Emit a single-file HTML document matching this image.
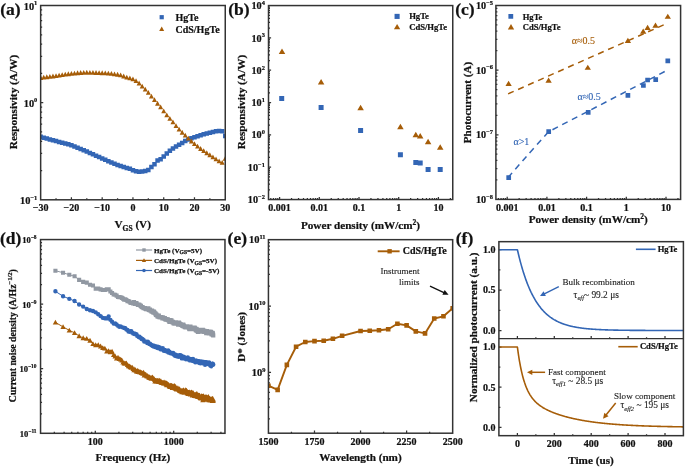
<!DOCTYPE html>
<html><head><meta charset="utf-8"><style>
html,body{margin:0;padding:0;background:#fff;overflow:hidden;}
svg{display:block;font-family:'Liberation Serif', serif;}
svg{will-change:transform;}
</style></head><body>
<svg width="685" height="467" viewBox="0 0 685 467">
<rect width="685" height="467" fill="#fff"/>
<path d="M56.03 199.8L56.03 198.3M71.42 199.8L71.42 197.2M86.8 199.8L86.8 198.3M102.18 199.8L102.18 197.2M117.57 199.8L117.57 198.3M132.95 199.8L132.95 197.2M148.33 199.8L148.33 198.3M163.72 199.8L163.72 197.2M179.1 199.8L179.1 198.3M194.48 199.8L194.48 197.2M209.87 199.8L209.87 198.3M40.65 170.55L42.15 170.55M40.65 153.45L42.15 153.45M40.65 141.31L42.15 141.31M40.65 131.9L42.15 131.9M40.65 124.2L42.15 124.2M40.65 117.7L42.15 117.7M40.65 112.06L42.15 112.06M40.65 107.1L42.15 107.1M40.65 102.65L43.25 102.65M40.65 73.4L42.15 73.4M40.65 56.3L42.15 56.3M40.65 44.16L42.15 44.16M40.65 34.75L42.15 34.75M40.65 27.05L42.15 27.05M40.65 20.55L42.15 20.55M40.65 14.91L42.15 14.91M40.65 9.95L42.15 9.95" stroke="#333" stroke-width="1.25" fill="none"/>
<clipPath id="ca"><rect x="40.65" y="5.5" width="184.6" height="194.3"/></clipPath>
<path clip-path="url(#ca)" fill="#3366b5" d="M38.4 134.61h4.5v4.5h-4.5ZM41.48 135.47h4.5v4.5h-4.5ZM44.55 136.33h4.5v4.5h-4.5ZM47.63 137.19h4.5v4.5h-4.5ZM50.71 138.04h4.5v4.5h-4.5ZM53.78 138.87h4.5v4.5h-4.5ZM56.86 139.65h4.5v4.5h-4.5ZM59.94 140.43h4.5v4.5h-4.5ZM63.01 141.23h4.5v4.5h-4.5ZM66.09 142.11h4.5v4.5h-4.5ZM69.17 143.09h4.5v4.5h-4.5ZM72.24 144.2h4.5v4.5h-4.5ZM75.32 145.41h4.5v4.5h-4.5ZM78.4 146.69h4.5v4.5h-4.5ZM81.47 148h4.5v4.5h-4.5ZM84.55 149.3h4.5v4.5h-4.5ZM87.63 150.65h4.5v4.5h-4.5ZM90.7 152.05h4.5v4.5h-4.5ZM93.78 153.47h4.5v4.5h-4.5ZM96.86 154.87h4.5v4.5h-4.5ZM99.93 156.24h4.5v4.5h-4.5ZM103.01 157.6h4.5v4.5h-4.5ZM106.09 158.97h4.5v4.5h-4.5ZM109.16 160.31h4.5v4.5h-4.5ZM112.24 161.59h4.5v4.5h-4.5ZM115.32 162.78h4.5v4.5h-4.5ZM118.39 163.86h4.5v4.5h-4.5ZM121.47 164.85h4.5v4.5h-4.5ZM124.55 165.75h4.5v4.5h-4.5ZM127.62 166.52h4.5v4.5h-4.5ZM130.7 167.99h4.5v4.5h-4.5ZM133.78 169.03h4.5v4.5h-4.5ZM136.85 169.39h4.5v4.5h-4.5ZM139.93 169.31h4.5v4.5h-4.5ZM143.01 168.66h4.5v4.5h-4.5ZM146.08 167.66h4.5v4.5h-4.5ZM149.16 164.75h4.5v4.5h-4.5ZM152.24 162.05h4.5v4.5h-4.5ZM155.31 158.25h4.5v4.5h-4.5ZM158.39 156.97h4.5v4.5h-4.5ZM161.47 154.15h4.5v4.5h-4.5ZM164.54 151.17h4.5v4.5h-4.5ZM167.62 148.52h4.5v4.5h-4.5ZM170.7 146.37h4.5v4.5h-4.5ZM173.77 144.21h4.5v4.5h-4.5ZM176.85 142.44h4.5v4.5h-4.5ZM179.93 140.67h4.5v4.5h-4.5ZM183 138.66h4.5v4.5h-4.5ZM186.08 137.21h4.5v4.5h-4.5ZM189.16 135.99h4.5v4.5h-4.5ZM192.23 134.91h4.5v4.5h-4.5ZM195.31 133.9h4.5v4.5h-4.5ZM198.39 132.96h4.5v4.5h-4.5ZM201.46 132.1h4.5v4.5h-4.5ZM204.54 131.3h4.5v4.5h-4.5ZM207.62 130.55h4.5v4.5h-4.5ZM210.69 129.75h4.5v4.5h-4.5ZM213.77 128.97h4.5v4.5h-4.5ZM216.85 128.77h4.5v4.5h-4.5ZM219.92 129.07h4.5v4.5h-4.5ZM223 133.75h4.5v4.5h-4.5Z"/>
<path clip-path="url(#ca)" fill="#a65d08" d="M38.15 79.88L43.15 79.88L40.65 75.08ZM41.23 79.53L46.23 79.53L43.73 74.73ZM44.3 79.17L49.3 79.17L46.8 74.37ZM47.38 78.8L52.38 78.8L49.88 74ZM50.46 78.41L55.46 78.41L52.96 73.61ZM53.53 77.99L58.53 77.99L56.03 73.19ZM56.61 77.53L61.61 77.53L59.11 72.73ZM59.69 77.04L64.69 77.04L62.19 72.24ZM62.76 76.57L67.76 76.57L65.26 71.77ZM65.84 76.16L70.84 76.16L68.34 71.36ZM68.92 75.82L73.92 75.82L71.42 71.02ZM71.99 75.48L76.99 75.48L74.49 70.68ZM75.07 75.16L80.07 75.16L77.57 70.36ZM78.15 74.89L83.15 74.89L80.65 70.09ZM81.22 74.71L86.22 74.71L83.72 69.91ZM84.3 74.66L89.3 74.66L86.8 69.86ZM87.38 74.7L92.38 74.7L89.88 69.9ZM90.45 74.77L95.45 74.77L92.95 69.97ZM93.53 74.88L98.53 74.88L96.03 70.08ZM96.61 75.02L101.61 75.02L99.11 70.22ZM99.68 75.16L104.68 75.16L102.18 70.36ZM102.76 75.33L107.76 75.33L105.26 70.53ZM105.84 75.56L110.84 75.56L108.34 70.76ZM108.91 75.85L113.91 75.85L111.41 71.05ZM111.99 76.21L116.99 76.21L114.49 71.41ZM115.07 76.64L120.07 76.64L117.57 71.84ZM118.14 77.32L123.14 77.32L120.64 72.52ZM121.22 78.39L126.22 78.39L123.72 73.59ZM124.3 79.45L129.3 79.45L126.8 74.65ZM127.37 80.29L132.37 80.29L129.87 75.49ZM130.45 81.35L135.45 81.35L132.95 76.55ZM133.53 83.1L138.53 83.1L136.03 78.3ZM136.6 85.41L141.6 85.41L139.1 80.61ZM139.68 88.56L144.68 88.56L142.18 83.76ZM142.76 91.62L147.76 91.62L145.26 86.82ZM145.83 94.83L150.83 94.83L148.33 90.03ZM148.91 98.47L153.91 98.47L151.41 93.67ZM151.99 102.06L156.99 102.06L154.49 97.26ZM155.06 105.64L160.06 105.64L157.56 100.84ZM158.14 109.22L163.14 109.22L160.64 104.42ZM161.22 113.3L166.22 113.3L163.72 108.5ZM164.29 117.22L169.29 117.22L166.79 112.42ZM167.37 120.76L172.37 120.76L169.87 115.96ZM170.45 124.35L175.45 124.35L172.95 119.55ZM173.52 127.97L178.52 127.97L176.02 123.17ZM176.6 131.52L181.6 131.52L179.1 126.72ZM179.68 134.63L184.68 134.63L182.18 129.83ZM182.75 137.59L187.75 137.59L185.25 132.79ZM185.83 140.53L190.83 140.53L188.33 135.73ZM188.91 143.39L193.91 143.39L191.41 138.59ZM191.98 146.11L196.98 146.11L194.48 141.31ZM195.06 148.62L200.06 148.62L197.56 143.82ZM198.14 150.92L203.14 150.92L200.64 146.12ZM201.21 153.07L206.21 153.07L203.71 148.27ZM204.29 155.14L209.29 155.14L206.79 150.34ZM207.37 157.17L212.37 157.17L209.87 152.37ZM210.44 159.24L215.44 159.24L212.94 154.44ZM213.52 161.29L218.52 161.29L216.02 156.49ZM216.6 163.2L221.6 163.2L219.1 158.4ZM219.67 164.84L224.67 164.84L222.17 160.04ZM222.75 160.66L227.75 160.66L225.25 155.86Z"/>
<rect x="40.65" y="5.5" width="184.6" height="194.3" fill="none" stroke="#333" stroke-width="1.5"/>
<path fill="#3366b5" d="M159.6 15.1h4.2v4.2h-4.2Z"/>
<path fill="#a65d08" d="M159.2 31.07L164.2 31.07L161.7 26.47Z"/>
<text x="175.5" y="20.6" font-size="10" font-weight="bold" text-anchor="start" fill="#111"  stroke="#111" stroke-width="0.22">HgTe</text>
<text x="175.5" y="32.6" font-size="10" font-weight="bold" text-anchor="start" fill="#111"  stroke="#111" stroke-width="0.22">CdS/HgTe</text>
<text x="40.65" y="210.7" font-size="10" font-weight="bold" text-anchor="middle" fill="#111"  stroke="#111" stroke-width="0.22">&#8722;30</text>
<text x="71.42" y="210.7" font-size="10" font-weight="bold" text-anchor="middle" fill="#111"  stroke="#111" stroke-width="0.22">&#8722;20</text>
<text x="102.18" y="210.7" font-size="10" font-weight="bold" text-anchor="middle" fill="#111"  stroke="#111" stroke-width="0.22">&#8722;10</text>
<text x="132.95" y="210.7" font-size="10" font-weight="bold" text-anchor="middle" fill="#111"  stroke="#111" stroke-width="0.22">0</text>
<text x="163.72" y="210.7" font-size="10" font-weight="bold" text-anchor="middle" fill="#111"  stroke="#111" stroke-width="0.22">10</text>
<text x="194.48" y="210.7" font-size="10" font-weight="bold" text-anchor="middle" fill="#111"  stroke="#111" stroke-width="0.22">20</text>
<text x="225.25" y="210.7" font-size="10" font-weight="bold" text-anchor="middle" fill="#111"  stroke="#111" stroke-width="0.22">30</text>
<text x="37.3" y="9.5" font-size="10.4" font-weight="bold" text-anchor="end" fill="#111" stroke="#111" stroke-width="0.22">10<tspan font-size="6.4" dy="-4.3">1</tspan></text>
<text x="37.3" y="106.65" font-size="10.4" font-weight="bold" text-anchor="end" fill="#111" stroke="#111" stroke-width="0.22">10<tspan font-size="6.4" dy="-4.3">0</tspan></text>
<text x="37.3" y="203.8" font-size="10.4" font-weight="bold" text-anchor="end" fill="#111" stroke="#111" stroke-width="0.22">10<tspan font-size="6.4" dy="-4.3">&#8722;1</tspan></text>
<text x="132.7" y="227.9" font-size="11.2" font-weight="bold" text-anchor="middle" fill="#111" stroke="#111" stroke-width="0.22">V<tspan font-size="7.5" dy="3">GS</tspan><tspan dy="-3"> (V)</tspan></text>
<text transform="translate(17,102) rotate(-90)" font-size="11.3" font-weight="bold" text-anchor="middle" fill="#111" stroke="#111" stroke-width="0.22">Responsivity (A/W)</text>
<text x="0.3" y="15.4" font-size="17.5" font-weight="bold" text-anchor="start" fill="#111"  stroke="#111" stroke-width="0.22">(a)</text>
<path d="M270.79 199.55L270.79 198.05M273.45 199.55L273.45 198.05M275.75 199.55L275.75 198.05M277.78 199.55L277.78 198.05M279.6 199.55L279.6 196.95M291.55 199.55L291.55 198.05M298.54 199.55L298.54 198.05M303.5 199.55L303.5 198.05M307.35 199.55L307.35 198.05M310.49 199.55L310.49 198.05M313.15 199.55L313.15 198.05M315.45 199.55L315.45 198.05M317.48 199.55L317.48 198.05M319.3 199.55L319.3 196.95M331.25 199.55L331.25 198.05M338.24 199.55L338.24 198.05M343.2 199.55L343.2 198.05M347.05 199.55L347.05 198.05M350.19 199.55L350.19 198.05M352.85 199.55L352.85 198.05M355.15 199.55L355.15 198.05M357.18 199.55L357.18 198.05M359 199.55L359 196.95M370.95 199.55L370.95 198.05M377.94 199.55L377.94 198.05M382.9 199.55L382.9 198.05M386.75 199.55L386.75 198.05M389.89 199.55L389.89 198.05M392.55 199.55L392.55 198.05M394.85 199.55L394.85 198.05M396.88 199.55L396.88 198.05M398.7 199.55L398.7 196.95M410.65 199.55L410.65 198.05M417.64 199.55L417.64 198.05M422.6 199.55L422.6 198.05M426.45 199.55L426.45 198.05M429.59 199.55L429.59 198.05M432.25 199.55L432.25 198.05M434.55 199.55L434.55 198.05M436.58 199.55L436.58 198.05M438.4 199.55L438.4 196.95M450.35 199.55L450.35 198.05M268.5 189.82L270 189.82M268.5 184.12L270 184.12M268.5 180.09L270 180.09M268.5 176.95L270 176.95M268.5 174.39L270 174.39M268.5 172.23L270 172.23M268.5 170.35L270 170.35M268.5 168.7L270 168.7M268.5 167.22L271.1 167.22M268.5 157.49L270 157.49M268.5 151.79L270 151.79M268.5 147.76L270 147.76M268.5 144.62L270 144.62M268.5 142.06L270 142.06M268.5 139.9L270 139.9M268.5 138.02L270 138.02M268.5 136.37L270 136.37M268.5 134.89L271.1 134.89M268.5 125.16L270 125.16M268.5 119.46L270 119.46M268.5 115.43L270 115.43M268.5 112.29L270 112.29M268.5 109.73L270 109.73M268.5 107.57L270 107.57M268.5 105.69L270 105.69M268.5 104.04L270 104.04M268.5 102.56L271.1 102.56M268.5 92.83L270 92.83M268.5 87.13L270 87.13M268.5 83.1L270 83.1M268.5 79.96L270 79.96M268.5 77.4L270 77.4M268.5 75.24L270 75.24M268.5 73.36L270 73.36M268.5 71.71L270 71.71M268.5 70.23L271.1 70.23M268.5 60.5L270 60.5M268.5 54.8L270 54.8M268.5 50.77L270 50.77M268.5 47.63L270 47.63M268.5 45.07L270 45.07M268.5 42.91L270 42.91M268.5 41.03L270 41.03M268.5 39.38L270 39.38M268.5 37.9L271.1 37.9M268.5 28.17L270 28.17M268.5 22.47L270 22.47M268.5 18.44L270 18.44M268.5 15.3L270 15.3M268.5 12.74L270 12.74M268.5 10.58L270 10.58M268.5 8.7L270 8.7M268.5 7.05L270 7.05" stroke="#333" stroke-width="1.25" fill="none"/>
<path fill="#3366b5" d="M279.2 96h5v5h-5ZM318.6 105.1h5v5h-5ZM358.1 128.1h5v5h-5ZM397.9 152.3h5v5h-5ZM413.3 160h5v5h-5ZM417.7 160.5h5v5h-5ZM425.6 166.9h5v5h-5ZM437.7 166.9h5v5h-5Z"/>
<path fill="#a65d08" d="M278.75 53.93L285.25 53.93L282 48.53ZM317.85 84.43L324.35 84.43L321.1 79.03ZM357.35 110.13L363.85 110.13L360.6 104.73ZM397.15 129.23L403.65 129.23L400.4 123.83ZM412.55 137.13L419.05 137.13L415.8 131.73ZM416.95 138.43L423.45 138.43L420.2 133.03ZM424.85 144.13L431.35 144.13L428.1 138.73ZM436.95 149.73L443.45 149.73L440.2 144.33Z"/>
<rect x="268.5" y="5.57" width="184.25" height="193.98" fill="none" stroke="#333" stroke-width="1.5"/>
<path fill="#3366b5" d="M394.55 13.85h5.1v5.1h-5.1Z"/>
<path fill="#a65d08" d="M393.95 29.33L400.25 29.33L397.1 23.93Z"/>
<text x="409.2" y="19.4" font-size="8.6" font-weight="bold" text-anchor="start" fill="#111"  stroke="#111" stroke-width="0.22">HgTe</text>
<text x="409.2" y="29.8" font-size="8.6" font-weight="bold" text-anchor="start" fill="#111"  stroke="#111" stroke-width="0.22">CdS/HgTe</text>
<text x="279.6" y="210.6" font-size="10" font-weight="bold" text-anchor="middle" fill="#111"  stroke="#111" stroke-width="0.22">0.001</text>
<text x="319.3" y="210.6" font-size="10" font-weight="bold" text-anchor="middle" fill="#111"  stroke="#111" stroke-width="0.22">0.01</text>
<text x="359" y="210.6" font-size="10" font-weight="bold" text-anchor="middle" fill="#111"  stroke="#111" stroke-width="0.22">0.1</text>
<text x="398.7" y="210.6" font-size="10" font-weight="bold" text-anchor="middle" fill="#111"  stroke="#111" stroke-width="0.22">1</text>
<text x="438.4" y="210.6" font-size="10" font-weight="bold" text-anchor="middle" fill="#111"  stroke="#111" stroke-width="0.22">10</text>
<text x="264.9" y="203.15" font-size="10.2" font-weight="bold" text-anchor="end" fill="#111" stroke="#111" stroke-width="0.22">10<tspan font-size="6.4" dy="-4.3">&#8722;2</tspan></text>
<text x="264.9" y="170.82" font-size="10.2" font-weight="bold" text-anchor="end" fill="#111" stroke="#111" stroke-width="0.22">10<tspan font-size="6.4" dy="-4.3">&#8722;1</tspan></text>
<text x="264.9" y="138.49" font-size="10.2" font-weight="bold" text-anchor="end" fill="#111" stroke="#111" stroke-width="0.22">10<tspan font-size="6.4" dy="-4.3">0</tspan></text>
<text x="264.9" y="106.16" font-size="10.2" font-weight="bold" text-anchor="end" fill="#111" stroke="#111" stroke-width="0.22">10<tspan font-size="6.4" dy="-4.3">1</tspan></text>
<text x="264.9" y="73.83" font-size="10.2" font-weight="bold" text-anchor="end" fill="#111" stroke="#111" stroke-width="0.22">10<tspan font-size="6.4" dy="-4.3">2</tspan></text>
<text x="264.9" y="41.5" font-size="10.2" font-weight="bold" text-anchor="end" fill="#111" stroke="#111" stroke-width="0.22">10<tspan font-size="6.4" dy="-4.3">3</tspan></text>
<text x="264.9" y="9.17" font-size="10.2" font-weight="bold" text-anchor="end" fill="#111" stroke="#111" stroke-width="0.22">10<tspan font-size="6.4" dy="-4.3">4</tspan></text>
<text x="360.5" y="229.0" font-size="11.2" font-weight="bold" text-anchor="middle" fill="#111" stroke="#111" stroke-width="0.22">Power density (mW/cm<tspan font-size="7.5" dy="-4">2</tspan><tspan dy="4">)</tspan></text>
<text transform="translate(244.6,102) rotate(-90)" font-size="11.3" font-weight="bold" text-anchor="middle" fill="#111" stroke="#111" stroke-width="0.22">Responsivity (A/W)</text>
<text x="228.2" y="15.4" font-size="17.5" font-weight="bold" text-anchor="start" fill="#111"  stroke="#111" stroke-width="0.22">(b)</text>
<path d="M498.39 199.4L498.39 197.9M501.05 199.4L501.05 197.9M503.35 199.4L503.35 197.9M505.38 199.4L505.38 197.9M507.2 199.4L507.2 196.8M519.15 199.4L519.15 197.9M526.14 199.4L526.14 197.9M531.1 199.4L531.1 197.9M534.95 199.4L534.95 197.9M538.09 199.4L538.09 197.9M540.75 199.4L540.75 197.9M543.05 199.4L543.05 197.9M545.08 199.4L545.08 197.9M546.9 199.4L546.9 196.8M558.85 199.4L558.85 197.9M565.84 199.4L565.84 197.9M570.8 199.4L570.8 197.9M574.65 199.4L574.65 197.9M577.79 199.4L577.79 197.9M580.45 199.4L580.45 197.9M582.75 199.4L582.75 197.9M584.78 199.4L584.78 197.9M586.6 199.4L586.6 196.8M598.55 199.4L598.55 197.9M605.54 199.4L605.54 197.9M610.5 199.4L610.5 197.9M614.35 199.4L614.35 197.9M617.49 199.4L617.49 197.9M620.15 199.4L620.15 197.9M622.45 199.4L622.45 197.9M624.48 199.4L624.48 197.9M626.3 199.4L626.3 196.8M638.25 199.4L638.25 197.9M645.24 199.4L645.24 197.9M650.2 199.4L650.2 197.9M654.05 199.4L654.05 197.9M657.19 199.4L657.19 197.9M659.85 199.4L659.85 197.9M662.15 199.4L662.15 197.9M664.18 199.4L664.18 197.9M666 199.4L666 196.8M677.95 199.4L677.95 197.9M495.9 179.94L497.4 179.94M495.9 168.56L497.4 168.56M495.9 160.49L497.4 160.49M495.9 154.22L497.4 154.22M495.9 149.11L497.4 149.11M495.9 144.78L497.4 144.78M495.9 141.03L497.4 141.03M495.9 137.72L497.4 137.72M495.9 134.77L498.5 134.77M495.9 115.31L497.4 115.31M495.9 103.93L497.4 103.93M495.9 95.85L497.4 95.85M495.9 89.59L497.4 89.59M495.9 84.47L497.4 84.47M495.9 80.15L497.4 80.15M495.9 76.4L497.4 76.4M495.9 73.09L497.4 73.09M495.9 70.13L498.5 70.13M495.9 50.68L497.4 50.68M495.9 39.3L497.4 39.3M495.9 31.22L497.4 31.22M495.9 24.96L497.4 24.96M495.9 19.84L497.4 19.84M495.9 15.51L497.4 15.51M495.9 11.76L497.4 11.76M495.9 8.46L497.4 8.46" stroke="#333" stroke-width="1.25" fill="none"/>
<path d="M508.1 93.9L665 24.3" stroke="#a65d08" stroke-width="1.5" fill="none" stroke-dasharray="6.1 4.84"/>
<path d="M508.7 176.8Q530 152 548.7 131.7L668 69.8" stroke="#3366b5" stroke-width="1.5" fill="none" stroke-dasharray="6.1 4.84" stroke-dashoffset="1.1"/>
<path fill="#3366b5" d="M506.35 175.25h4.7v4.7h-4.7ZM546.35 129.35h4.7v4.7h-4.7ZM585.85 110.05h4.7v4.7h-4.7ZM625.55 92.95h4.7v4.7h-4.7ZM641.05 83.15h4.7v4.7h-4.7ZM645.25 77.65h4.7v4.7h-4.7ZM653.35 77.25h4.7v4.7h-4.7ZM665.45 58.45h4.7v4.7h-4.7Z"/>
<path fill="#a65d08" d="M505.45 85.94L511.75 85.94L508.6 80.74ZM545.45 82.74L551.75 82.74L548.6 77.54ZM584.65 69.84L590.95 69.84L587.8 64.64ZM624.75 42.94L631.05 42.94L627.9 37.74ZM640.05 33.64L646.35 33.64L643.2 28.44ZM644.45 29.94L650.75 29.94L647.6 24.74ZM652.35 27.74L658.65 27.74L655.5 22.54ZM664.65 18.84L670.95 18.84L667.8 13.64Z"/>
<rect x="495.9" y="5.5" width="184.7" height="193.9" fill="none" stroke="#333" stroke-width="1.5"/>
<path fill="#3366b5" d="M508.4 14h4.8v4.8h-4.8Z"/>
<path fill="#a65d08" d="M507.85 29.38L514.15 29.38L511 24.09Z"/>
<text x="522.7" y="19.6" font-size="8.6" font-weight="bold" text-anchor="start" fill="#111"  stroke="#111" stroke-width="0.22">HgTe</text>
<text x="522.7" y="29.8" font-size="8.6" font-weight="bold" text-anchor="start" fill="#111"  stroke="#111" stroke-width="0.22">CdS/HgTe</text>
<text x="571.7" y="44" font-size="10" font-weight="normal" text-anchor="start" fill="#a65d08"  stroke="#a65d08" stroke-width="0.12">&#945;&#8776;0.5</text>
<text x="577.5" y="99.7" font-size="10" font-weight="normal" text-anchor="start" fill="#3366b5"  stroke="#3366b5" stroke-width="0.12">&#945;&#8776;0.5</text>
<text x="513.4" y="144.6" font-size="10" font-weight="normal" text-anchor="start" fill="#3366b5"  stroke="#3366b5" stroke-width="0.12">&#945;&gt;1</text>
<text x="507.2" y="210.6" font-size="10" font-weight="bold" text-anchor="middle" fill="#111"  stroke="#111" stroke-width="0.22">0.001</text>
<text x="546.9" y="210.6" font-size="10" font-weight="bold" text-anchor="middle" fill="#111"  stroke="#111" stroke-width="0.22">0.01</text>
<text x="586.6" y="210.6" font-size="10" font-weight="bold" text-anchor="middle" fill="#111"  stroke="#111" stroke-width="0.22">0.1</text>
<text x="626.3" y="210.6" font-size="10" font-weight="bold" text-anchor="middle" fill="#111"  stroke="#111" stroke-width="0.22">1</text>
<text x="666" y="210.6" font-size="10" font-weight="bold" text-anchor="middle" fill="#111"  stroke="#111" stroke-width="0.22">10</text>
<text x="493" y="203" font-size="10.2" font-weight="bold" text-anchor="end" fill="#111" stroke="#111" stroke-width="0.22">10<tspan font-size="6.4" dy="-4.3">&#8722;8</tspan></text>
<text x="493" y="138.37" font-size="10.2" font-weight="bold" text-anchor="end" fill="#111" stroke="#111" stroke-width="0.22">10<tspan font-size="6.4" dy="-4.3">&#8722;7</tspan></text>
<text x="493" y="73.73" font-size="10.2" font-weight="bold" text-anchor="end" fill="#111" stroke="#111" stroke-width="0.22">10<tspan font-size="6.4" dy="-4.3">&#8722;6</tspan></text>
<text x="493" y="9.1" font-size="10.2" font-weight="bold" text-anchor="end" fill="#111" stroke="#111" stroke-width="0.22">10<tspan font-size="6.4" dy="-4.3">&#8722;5</tspan></text>
<text x="588.2" y="222.5" font-size="11.2" font-weight="bold" text-anchor="middle" fill="#111" stroke="#111" stroke-width="0.22">Power density (mW/cm<tspan font-size="7.5" dy="-4">2</tspan><tspan dy="4">)</tspan></text>
<text transform="translate(471.4,102.6) rotate(-90)" font-size="11.1" font-weight="bold" text-anchor="middle" fill="#111" stroke="#111" stroke-width="0.22">Photocurrent (A)</text>
<text x="455.2" y="15.4" font-size="17.5" font-weight="bold" text-anchor="start" fill="#111"  stroke="#111" stroke-width="0.22">(c)</text>
<path d="M54.31 433.3L54.31 431.8M64.1 433.3L64.1 431.8M71.7 433.3L71.7 431.8M77.91 433.3L77.91 431.8M83.16 433.3L83.16 431.8M87.7 433.3L87.7 431.8M91.71 433.3L91.71 431.8M95.3 433.3L95.3 430.7M118.9 433.3L118.9 431.8M132.71 433.3L132.71 431.8M142.5 433.3L142.5 431.8M150.1 433.3L150.1 431.8M156.31 433.3L156.31 431.8M161.56 433.3L161.56 431.8M166.1 433.3L166.1 431.8M170.11 433.3L170.11 431.8M173.7 433.3L173.7 430.7M197.3 433.3L197.3 431.8M211.11 433.3L211.11 431.8M220.9 433.3L220.9 431.8M40.55 413.86L42.05 413.86M40.55 402.49L42.05 402.49M40.55 394.42L42.05 394.42M40.55 388.16L42.05 388.16M40.55 383.05L42.05 383.05M40.55 378.73L42.05 378.73M40.55 374.98L42.05 374.98M40.55 371.68L42.05 371.68M40.55 368.72L43.15 368.72M40.55 349.28L42.05 349.28M40.55 337.91L42.05 337.91M40.55 329.84L42.05 329.84M40.55 323.59L42.05 323.59M40.55 318.47L42.05 318.47M40.55 314.15L42.05 314.15M40.55 310.4L42.05 310.4M40.55 307.1L42.05 307.1M40.55 304.15L43.15 304.15M40.55 284.71L42.05 284.71M40.55 273.34L42.05 273.34M40.55 265.27L42.05 265.27M40.55 259.01L42.05 259.01M40.55 253.9L42.05 253.9M40.55 249.57L42.05 249.57M40.55 245.83L42.05 245.83M40.55 242.52L42.05 242.52" stroke="#333" stroke-width="1.25" fill="none"/>
<path d="M55.42 270.72L63.06 272.69L69.3 274.79L74.57 276.24L79.13 279.83L83.16 281.89L86.75 282.6L90.01 284.71L92.98 285.57L95.71 288.6L98.23 288.62L100.59 289.34L102.79 289.94L104.86 289.98L106.81 289.42L108.65 289.18L110.4 291.44L112.06 293.01L113.65 294.49L115.16 294.74L116.61 295.61L118 296.97L119.34 297.11L120.63 297.18L121.87 297.83L123.06 298.65L124.22 299.79L125.33 299.35L126.42 299.95L127.47 301.17L128.48 300.97L129.47 301.79L130.43 302.75L131.36 302.89L132.27 302.88L133.16 303.34L134.02 301.95L134.86 303.88L135.68 303.2L136.48 303.12L137.27 304.3L138.03 304.84L138.78 304.67L139.51 304.71L140.23 305.53L140.93 305.87L141.62 306.96L142.3 307.17L142.96 307.44L143.61 308.32L144.24 308.13L144.87 308.11L145.48 309.02L146.09 309.19L146.68 308.93L147.26 308.76L147.83 309.34L148.4 308.31L148.95 310.03L149.49 310.29L150.03 309.67L150.56 310.74L151.08 310.57L151.59 311.63L152.1 310.62L152.59 311.36L153.08 312.3L153.57 312.72L154.04 311.49L154.51 312.56L154.98 313.35L155.43 313.42L155.88 314.93L156.33 314.19L156.77 315.4L157.2 315.21L157.63 316.64L158.05 316.21L158.47 316.18L158.89 315.66L159.29 317.26L159.7 316.93L160.09 317.07L160.49 317.44L160.88 317.3L161.26 317.09L161.64 317.22L162.02 317.37L162.39 318.44L162.76 317.23L163.12 317.69L163.48 317.93L163.84 318.33L164.19 318.66L164.54 318.04L164.89 318.02L165.23 318.96L165.57 319.6L165.91 319.45L166.24 319.25L166.57 319.04L166.89 319.37L167.22 319.22L167.54 319.84L167.85 319.31L168.17 319.97L168.48 320.12L168.79 320.67L169.09 320.75L169.39 321.95L169.69 321.59L169.99 321.66L170.29 320.1L170.58 320.86L170.87 320.77L171.16 321.38L171.44 320.29L171.72 322.07L172 322.27L172.28 321.43L172.56 321.76L172.83 321.97L173.1 322.45L173.37 322.8L173.64 323.5L173.9 322.53L174.17 323.02L174.43 322.82L174.69 323.6L174.94 323.16L175.2 323.42L175.45 322.27L175.7 322.62L175.95 322.33L176.2 323.44L176.45 323.18L176.69 322.91L176.93 323.04L177.17 323.68L177.41 323.37L177.65 323.39L177.89 324.01L178.12 324.77L178.35 323.37L178.58 323.05L178.81 322.66L179.04 322.56L179.27 323.46L179.49 323.76L179.71 323.63L179.94 324.09L180.16 324.32L180.38 324.58L180.59 323.99L180.81 324.59L181.02 324.98L181.24 324.74L181.45 325.02L181.66 324.96L181.87 325.2L182.08 325.72L182.29 325.15L182.49 325.27L182.7 325.72L182.9 325.65L183.1 326.16L183.3 324.53L183.5 325.96L183.7 325.48L183.9 325.88L184.09 326.29L184.29 326.51L184.48 326.64L184.68 326.39L184.87 327.17L185.06 326.4L185.25 326.5L185.44 326.95L185.63 326.35L185.81 327.55L186 327.01L186.18 327.49L186.37 326.47L186.55 326.3L186.73 326.57L186.91 326.87L187.09 326.33L187.27 326.83L187.45 326.73L187.62 327.54L187.8 326.56L187.97 327.37L188.15 326.67L188.32 326.64L188.49 326.93L188.67 326.98L188.84 327.88L189.01 328.56L189.18 328.37L189.34 328.66L189.51 329.08L189.68 328.3L189.84 328.03L190.01 327.56L190.17 326.75L190.34 327.68L190.5 326.52L190.66 327.68L190.82 327.51L190.98 328.19L191.14 327.83L191.3 327.68L191.46 328.4L191.61 328.14L191.77 328.45L191.93 328.68L192.08 328.7L192.24 328.75L192.39 328.49L192.54 328.77L192.7 327.83L192.85 328.62L193 328.07L193.15 329.06L193.3 329.1L193.45 327.67L193.6 328.63L193.74 328.54L193.89 328.12L194.04 328.81L194.18 328.3L194.33 327.63L194.47 328.22L194.62 328.22L194.76 328.36L194.9 327.89L195.05 328.96L195.19 329.32L195.33 328.79L195.47 329.28L195.61 329.69L195.75 329.5L195.89 330.42L196.02 329.51L196.16 328.73L196.3 328.68L196.44 328.97L196.57 330.12L196.71 329.21L196.84 329.59L196.98 330L197.11 329.93L197.24 331.12L197.38 329.98L197.51 330.7L197.64 330.64L197.77 331.08L197.9 330.51L198.03 332.06L198.16 331.35L198.29 331.46L198.42 330.95L198.55 330.86L198.68 331.21L198.8 331.16L198.93 330.86L199.06 330.9L199.18 330.54L199.31 330.14L199.43 330.46L199.56 330.39L199.68 330.18L199.8 330.67L199.93 331.06L200.05 330.71L200.17 330.56L200.29 331.14L200.42 331.7L200.54 330.72L200.66 330.68L200.78 330.59L200.9 331.18L201.02 329.83L201.14 330.86L201.25 331.27L201.37 330.42L201.49 331.5L201.61 331.06L201.72 330.5L201.84 330.74L201.96 329.87L202.07 330.25L202.19 331.34L202.3 330.17L202.42 331.45L202.53 330.62L202.64 331.17L202.76 330.84L202.87 329.92L202.98 330.78L203.09 331.23L203.21 330.72L203.32 330.73L203.43 331.56L203.54 331.13L203.65 330.64L203.76 331.04L203.87 331.66L203.98 331.01L204.09 331.61L204.2 331.89L204.3 331.26L204.41 330.82L204.52 330.84L204.63 331.51L204.73 332L204.84 331.8L204.95 331.98L205.05 331.57L205.16 331.93L205.26 331.6L205.37 331.7L205.47 331.29L205.58 331.21L205.68 331.74L205.79 331.49L205.89 331.55L205.99 332.25L206.09 331.84L206.2 333.1L206.3 332.08L206.4 331.26L206.5 331.81L206.6 331.63L206.7 331.27L206.81 332.28L206.91 331.7L207.01 330.94L207.11 332.85L207.2 332.27L207.3 333.18L207.4 332.14L207.5 331.82L207.6 333.02L207.7 331.88L207.8 332.57L207.89 333.27L207.99 332.75L208.09 332.67L208.18 332.7L208.28 332.95L208.38 332.12L208.47 332.7L208.57 332.66L208.66 333.46L208.76 332.26L208.85 332L208.95 332.75L209.04 332.25L209.13 332.59L209.23 332.55L209.32 333.06L209.41 332.33L209.51 332.69L209.6 331.65L209.69 332.44L209.78 333.56L209.88 332.59L209.97 332.63L210.06 332.47L210.15 333.36L210.24 333.25L210.33 332.66L210.42 333.43L210.51 333.1L210.6 333.11L210.69 332.22L210.78 333.04L210.87 332.28L210.96 332L211.05 331.91L211.14 332.24L211.23 333.03L211.31 332.86L211.4 333.79L211.49 333.83L211.58 334.36L211.66 334.25L211.75 333.95L211.84 333.19L211.92 334.21L212.01 334.39L212.1 333.99L212.18 334.01L212.27 333.36L212.35 333.22L212.44 332.82L212.52 333.8L212.61 333.32L212.69 333.2L212.78 333.08L212.86 333.93L212.95 334.99L213.03 334.83L213.11 334.48L213.2 335.55L213.28 335.52" stroke="#9198a2" stroke-width="1.0" fill="none" stroke-linejoin="round"/>
<path fill="#9198a2" d="M53.37 268.67h4.1v4.1h-4.1ZM61.01 270.64h4.1v4.1h-4.1ZM67.25 272.74h4.1v4.1h-4.1ZM72.52 274.19h4.1v4.1h-4.1ZM77.08 277.78h4.1v4.1h-4.1ZM81.11 279.84h4.1v4.1h-4.1ZM84.7 280.55h4.1v4.1h-4.1ZM87.96 282.66h4.1v4.1h-4.1ZM90.93 283.52h4.1v4.1h-4.1ZM93.66 286.55h4.1v4.1h-4.1ZM96.18 286.57h4.1v4.1h-4.1ZM98.54 287.29h4.1v4.1h-4.1ZM100.74 287.89h4.1v4.1h-4.1ZM102.81 287.93h4.1v4.1h-4.1ZM104.76 287.37h4.1v4.1h-4.1ZM106.6 287.13h4.1v4.1h-4.1ZM108.35 289.39h4.1v4.1h-4.1ZM110.01 290.96h4.1v4.1h-4.1ZM111.6 292.44h4.1v4.1h-4.1ZM113.11 292.69h4.1v4.1h-4.1ZM114.56 293.56h4.1v4.1h-4.1ZM115.95 294.92h4.1v4.1h-4.1ZM117.29 295.06h4.1v4.1h-4.1ZM118.58 295.13h4.1v4.1h-4.1ZM119.82 295.78h4.1v4.1h-4.1ZM121.01 296.6h4.1v4.1h-4.1ZM122.17 297.74h4.1v4.1h-4.1ZM123.28 297.3h4.1v4.1h-4.1ZM124.37 297.9h4.1v4.1h-4.1ZM125.42 299.12h4.1v4.1h-4.1ZM126.43 298.92h4.1v4.1h-4.1ZM127.42 299.74h4.1v4.1h-4.1ZM128.38 300.7h4.1v4.1h-4.1ZM129.31 300.84h4.1v4.1h-4.1ZM130.22 300.83h4.1v4.1h-4.1ZM131.11 301.29h4.1v4.1h-4.1ZM131.97 299.9h4.1v4.1h-4.1ZM132.81 301.83h4.1v4.1h-4.1ZM133.63 301.15h4.1v4.1h-4.1ZM134.43 301.07h4.1v4.1h-4.1ZM135.22 302.25h4.1v4.1h-4.1ZM135.98 302.79h4.1v4.1h-4.1ZM136.73 302.62h4.1v4.1h-4.1ZM137.46 302.66h4.1v4.1h-4.1ZM138.18 303.48h4.1v4.1h-4.1ZM138.88 303.82h4.1v4.1h-4.1ZM139.57 304.91h4.1v4.1h-4.1ZM140.25 305.12h4.1v4.1h-4.1ZM140.91 305.39h4.1v4.1h-4.1ZM141.56 306.27h4.1v4.1h-4.1ZM142.19 306.08h4.1v4.1h-4.1ZM142.82 306.06h4.1v4.1h-4.1ZM143.43 306.97h4.1v4.1h-4.1ZM144.04 307.14h4.1v4.1h-4.1ZM144.63 306.88h4.1v4.1h-4.1ZM145.21 306.71h4.1v4.1h-4.1ZM145.78 307.29h4.1v4.1h-4.1ZM146.35 306.26h4.1v4.1h-4.1ZM146.9 307.98h4.1v4.1h-4.1ZM147.44 308.24h4.1v4.1h-4.1ZM147.98 307.62h4.1v4.1h-4.1ZM148.51 308.69h4.1v4.1h-4.1ZM149.03 308.52h4.1v4.1h-4.1ZM149.54 309.58h4.1v4.1h-4.1ZM150.05 308.57h4.1v4.1h-4.1ZM150.54 309.31h4.1v4.1h-4.1ZM151.03 310.25h4.1v4.1h-4.1ZM151.52 310.67h4.1v4.1h-4.1ZM151.99 309.44h4.1v4.1h-4.1ZM152.46 310.51h4.1v4.1h-4.1ZM152.93 311.3h4.1v4.1h-4.1ZM153.38 311.37h4.1v4.1h-4.1ZM153.83 312.88h4.1v4.1h-4.1ZM154.28 312.14h4.1v4.1h-4.1ZM154.72 313.35h4.1v4.1h-4.1ZM155.15 313.16h4.1v4.1h-4.1ZM155.58 314.59h4.1v4.1h-4.1ZM156 314.16h4.1v4.1h-4.1ZM156.42 314.13h4.1v4.1h-4.1ZM156.84 313.61h4.1v4.1h-4.1ZM157.24 315.21h4.1v4.1h-4.1ZM157.65 314.88h4.1v4.1h-4.1ZM158.04 315.02h4.1v4.1h-4.1ZM158.44 315.39h4.1v4.1h-4.1ZM158.83 315.25h4.1v4.1h-4.1ZM159.21 315.04h4.1v4.1h-4.1ZM159.59 315.17h4.1v4.1h-4.1ZM159.97 315.32h4.1v4.1h-4.1ZM160.34 316.39h4.1v4.1h-4.1ZM160.71 315.18h4.1v4.1h-4.1ZM161.07 315.64h4.1v4.1h-4.1ZM161.43 315.88h4.1v4.1h-4.1ZM161.79 316.28h4.1v4.1h-4.1ZM162.14 316.61h4.1v4.1h-4.1ZM162.49 315.99h4.1v4.1h-4.1ZM162.84 315.97h4.1v4.1h-4.1ZM163.18 316.91h4.1v4.1h-4.1ZM163.52 317.55h4.1v4.1h-4.1ZM163.86 317.4h4.1v4.1h-4.1ZM164.19 317.2h4.1v4.1h-4.1ZM164.52 316.99h4.1v4.1h-4.1ZM164.84 317.32h4.1v4.1h-4.1ZM165.17 317.17h4.1v4.1h-4.1ZM165.49 317.79h4.1v4.1h-4.1ZM165.8 317.26h4.1v4.1h-4.1ZM166.12 317.92h4.1v4.1h-4.1ZM166.43 318.07h4.1v4.1h-4.1ZM166.74 318.62h4.1v4.1h-4.1ZM167.04 318.7h4.1v4.1h-4.1ZM167.34 319.9h4.1v4.1h-4.1ZM167.64 319.54h4.1v4.1h-4.1ZM167.94 319.61h4.1v4.1h-4.1ZM168.24 318.05h4.1v4.1h-4.1ZM168.53 318.81h4.1v4.1h-4.1ZM168.82 318.72h4.1v4.1h-4.1ZM169.11 319.33h4.1v4.1h-4.1ZM169.39 318.24h4.1v4.1h-4.1ZM169.67 320.02h4.1v4.1h-4.1ZM169.95 320.22h4.1v4.1h-4.1ZM170.23 319.38h4.1v4.1h-4.1ZM170.51 319.71h4.1v4.1h-4.1ZM170.78 319.92h4.1v4.1h-4.1ZM171.05 320.4h4.1v4.1h-4.1ZM171.32 320.75h4.1v4.1h-4.1ZM171.59 321.45h4.1v4.1h-4.1ZM171.85 320.48h4.1v4.1h-4.1ZM172.12 320.97h4.1v4.1h-4.1ZM172.38 320.77h4.1v4.1h-4.1ZM172.64 321.55h4.1v4.1h-4.1ZM172.89 321.11h4.1v4.1h-4.1ZM173.15 321.37h4.1v4.1h-4.1ZM173.4 320.22h4.1v4.1h-4.1ZM173.65 320.57h4.1v4.1h-4.1ZM173.9 320.28h4.1v4.1h-4.1ZM174.15 321.39h4.1v4.1h-4.1ZM174.4 321.13h4.1v4.1h-4.1ZM174.64 320.86h4.1v4.1h-4.1ZM174.88 320.99h4.1v4.1h-4.1ZM175.12 321.63h4.1v4.1h-4.1ZM175.36 321.32h4.1v4.1h-4.1ZM175.6 321.34h4.1v4.1h-4.1ZM175.84 321.96h4.1v4.1h-4.1ZM176.07 322.72h4.1v4.1h-4.1ZM176.3 321.32h4.1v4.1h-4.1ZM176.53 321h4.1v4.1h-4.1ZM176.76 320.61h4.1v4.1h-4.1ZM176.99 320.51h4.1v4.1h-4.1ZM177.22 321.41h4.1v4.1h-4.1ZM177.44 321.71h4.1v4.1h-4.1ZM177.66 321.58h4.1v4.1h-4.1ZM177.89 322.04h4.1v4.1h-4.1ZM178.11 322.27h4.1v4.1h-4.1ZM178.33 322.53h4.1v4.1h-4.1ZM178.54 321.94h4.1v4.1h-4.1ZM178.76 322.54h4.1v4.1h-4.1ZM178.97 322.93h4.1v4.1h-4.1ZM179.19 322.69h4.1v4.1h-4.1ZM179.4 322.97h4.1v4.1h-4.1ZM179.61 322.91h4.1v4.1h-4.1ZM179.82 323.15h4.1v4.1h-4.1ZM180.03 323.67h4.1v4.1h-4.1ZM180.24 323.1h4.1v4.1h-4.1ZM180.44 323.22h4.1v4.1h-4.1ZM180.65 323.67h4.1v4.1h-4.1ZM180.85 323.6h4.1v4.1h-4.1ZM181.05 324.11h4.1v4.1h-4.1ZM181.25 322.48h4.1v4.1h-4.1ZM181.45 323.91h4.1v4.1h-4.1ZM181.65 323.43h4.1v4.1h-4.1ZM181.85 323.83h4.1v4.1h-4.1ZM182.04 324.24h4.1v4.1h-4.1ZM182.24 324.46h4.1v4.1h-4.1ZM182.43 324.59h4.1v4.1h-4.1ZM182.63 324.34h4.1v4.1h-4.1ZM182.82 325.12h4.1v4.1h-4.1ZM183.01 324.35h4.1v4.1h-4.1ZM183.2 324.45h4.1v4.1h-4.1ZM183.39 324.9h4.1v4.1h-4.1ZM183.58 324.3h4.1v4.1h-4.1ZM183.76 325.5h4.1v4.1h-4.1ZM183.95 324.96h4.1v4.1h-4.1ZM184.13 325.44h4.1v4.1h-4.1ZM184.32 324.42h4.1v4.1h-4.1ZM184.5 324.25h4.1v4.1h-4.1ZM184.68 324.52h4.1v4.1h-4.1ZM184.86 324.82h4.1v4.1h-4.1ZM185.04 324.28h4.1v4.1h-4.1ZM185.22 324.78h4.1v4.1h-4.1ZM185.4 324.68h4.1v4.1h-4.1ZM185.57 325.49h4.1v4.1h-4.1ZM185.75 324.51h4.1v4.1h-4.1ZM185.92 325.32h4.1v4.1h-4.1ZM186.1 324.62h4.1v4.1h-4.1ZM186.27 324.59h4.1v4.1h-4.1ZM186.44 324.88h4.1v4.1h-4.1ZM186.62 324.93h4.1v4.1h-4.1ZM186.79 325.83h4.1v4.1h-4.1ZM186.96 326.51h4.1v4.1h-4.1ZM187.13 326.32h4.1v4.1h-4.1ZM187.29 326.61h4.1v4.1h-4.1ZM187.46 327.03h4.1v4.1h-4.1ZM187.63 326.25h4.1v4.1h-4.1ZM187.79 325.98h4.1v4.1h-4.1ZM187.96 325.51h4.1v4.1h-4.1ZM188.12 324.7h4.1v4.1h-4.1ZM188.29 325.63h4.1v4.1h-4.1ZM188.45 324.47h4.1v4.1h-4.1ZM188.61 325.63h4.1v4.1h-4.1ZM188.77 325.46h4.1v4.1h-4.1ZM188.93 326.14h4.1v4.1h-4.1ZM189.09 325.78h4.1v4.1h-4.1ZM189.25 325.63h4.1v4.1h-4.1ZM189.41 326.35h4.1v4.1h-4.1ZM189.56 326.09h4.1v4.1h-4.1ZM189.72 326.4h4.1v4.1h-4.1ZM189.88 326.63h4.1v4.1h-4.1ZM190.03 326.65h4.1v4.1h-4.1ZM190.19 326.7h4.1v4.1h-4.1ZM190.34 326.44h4.1v4.1h-4.1ZM190.49 326.72h4.1v4.1h-4.1ZM190.65 325.78h4.1v4.1h-4.1ZM190.8 326.57h4.1v4.1h-4.1ZM190.95 326.02h4.1v4.1h-4.1ZM191.1 327.01h4.1v4.1h-4.1ZM191.25 327.05h4.1v4.1h-4.1ZM191.4 325.62h4.1v4.1h-4.1ZM191.55 326.58h4.1v4.1h-4.1ZM191.69 326.49h4.1v4.1h-4.1ZM191.84 326.07h4.1v4.1h-4.1ZM191.99 326.76h4.1v4.1h-4.1ZM192.13 326.25h4.1v4.1h-4.1ZM192.28 325.58h4.1v4.1h-4.1ZM192.42 326.17h4.1v4.1h-4.1ZM192.57 326.17h4.1v4.1h-4.1ZM192.71 326.31h4.1v4.1h-4.1ZM192.85 325.84h4.1v4.1h-4.1ZM193 326.91h4.1v4.1h-4.1ZM193.14 327.27h4.1v4.1h-4.1ZM193.28 326.74h4.1v4.1h-4.1ZM193.42 327.23h4.1v4.1h-4.1ZM193.56 327.64h4.1v4.1h-4.1ZM193.7 327.45h4.1v4.1h-4.1ZM193.84 328.37h4.1v4.1h-4.1ZM193.97 327.46h4.1v4.1h-4.1ZM194.11 326.68h4.1v4.1h-4.1ZM194.25 326.63h4.1v4.1h-4.1ZM194.39 326.92h4.1v4.1h-4.1ZM194.52 328.07h4.1v4.1h-4.1ZM194.66 327.16h4.1v4.1h-4.1ZM194.79 327.54h4.1v4.1h-4.1ZM194.93 327.95h4.1v4.1h-4.1ZM195.06 327.88h4.1v4.1h-4.1ZM195.19 329.07h4.1v4.1h-4.1ZM195.33 327.93h4.1v4.1h-4.1ZM195.46 328.65h4.1v4.1h-4.1ZM195.59 328.59h4.1v4.1h-4.1ZM195.72 329.03h4.1v4.1h-4.1ZM195.85 328.46h4.1v4.1h-4.1ZM195.98 330.01h4.1v4.1h-4.1ZM196.11 329.3h4.1v4.1h-4.1ZM196.24 329.41h4.1v4.1h-4.1ZM196.37 328.9h4.1v4.1h-4.1ZM196.5 328.81h4.1v4.1h-4.1ZM196.63 329.16h4.1v4.1h-4.1ZM196.75 329.11h4.1v4.1h-4.1ZM196.88 328.81h4.1v4.1h-4.1ZM197.01 328.85h4.1v4.1h-4.1ZM197.13 328.49h4.1v4.1h-4.1ZM197.26 328.09h4.1v4.1h-4.1ZM197.38 328.41h4.1v4.1h-4.1ZM197.51 328.34h4.1v4.1h-4.1ZM197.63 328.13h4.1v4.1h-4.1ZM197.75 328.62h4.1v4.1h-4.1ZM197.88 329.01h4.1v4.1h-4.1ZM198 328.66h4.1v4.1h-4.1ZM198.12 328.51h4.1v4.1h-4.1ZM198.24 329.09h4.1v4.1h-4.1ZM198.37 329.65h4.1v4.1h-4.1ZM198.49 328.67h4.1v4.1h-4.1ZM198.61 328.63h4.1v4.1h-4.1ZM198.73 328.54h4.1v4.1h-4.1ZM198.85 329.13h4.1v4.1h-4.1ZM198.97 327.78h4.1v4.1h-4.1ZM199.09 328.81h4.1v4.1h-4.1ZM199.2 329.22h4.1v4.1h-4.1ZM199.32 328.37h4.1v4.1h-4.1ZM199.44 329.45h4.1v4.1h-4.1ZM199.56 329.01h4.1v4.1h-4.1ZM199.67 328.45h4.1v4.1h-4.1ZM199.79 328.69h4.1v4.1h-4.1ZM199.91 327.82h4.1v4.1h-4.1ZM200.02 328.2h4.1v4.1h-4.1ZM200.14 329.29h4.1v4.1h-4.1ZM200.25 328.12h4.1v4.1h-4.1ZM200.37 329.4h4.1v4.1h-4.1ZM200.48 328.57h4.1v4.1h-4.1ZM200.59 329.12h4.1v4.1h-4.1ZM200.71 328.79h4.1v4.1h-4.1ZM200.82 327.87h4.1v4.1h-4.1ZM200.93 328.73h4.1v4.1h-4.1ZM201.04 329.18h4.1v4.1h-4.1ZM201.16 328.67h4.1v4.1h-4.1ZM201.27 328.68h4.1v4.1h-4.1ZM201.38 329.51h4.1v4.1h-4.1ZM201.49 329.08h4.1v4.1h-4.1ZM201.6 328.59h4.1v4.1h-4.1ZM201.71 328.99h4.1v4.1h-4.1ZM201.82 329.61h4.1v4.1h-4.1ZM201.93 328.96h4.1v4.1h-4.1ZM202.04 329.56h4.1v4.1h-4.1ZM202.15 329.84h4.1v4.1h-4.1ZM202.25 329.21h4.1v4.1h-4.1ZM202.36 328.77h4.1v4.1h-4.1ZM202.47 328.79h4.1v4.1h-4.1ZM202.58 329.46h4.1v4.1h-4.1ZM202.68 329.95h4.1v4.1h-4.1ZM202.79 329.75h4.1v4.1h-4.1ZM202.9 329.93h4.1v4.1h-4.1ZM203 329.52h4.1v4.1h-4.1ZM203.11 329.88h4.1v4.1h-4.1ZM203.21 329.55h4.1v4.1h-4.1ZM203.32 329.65h4.1v4.1h-4.1ZM203.42 329.24h4.1v4.1h-4.1ZM203.53 329.16h4.1v4.1h-4.1ZM203.63 329.69h4.1v4.1h-4.1ZM203.74 329.44h4.1v4.1h-4.1ZM203.84 329.5h4.1v4.1h-4.1ZM203.94 330.2h4.1v4.1h-4.1ZM204.04 329.79h4.1v4.1h-4.1ZM204.15 331.05h4.1v4.1h-4.1ZM204.25 330.03h4.1v4.1h-4.1ZM204.35 329.21h4.1v4.1h-4.1ZM204.45 329.76h4.1v4.1h-4.1ZM204.55 329.58h4.1v4.1h-4.1ZM204.65 329.22h4.1v4.1h-4.1ZM204.76 330.23h4.1v4.1h-4.1ZM204.86 329.65h4.1v4.1h-4.1ZM204.96 328.89h4.1v4.1h-4.1ZM205.06 330.8h4.1v4.1h-4.1ZM205.15 330.22h4.1v4.1h-4.1ZM205.25 331.13h4.1v4.1h-4.1ZM205.35 330.09h4.1v4.1h-4.1ZM205.45 329.77h4.1v4.1h-4.1ZM205.55 330.97h4.1v4.1h-4.1ZM205.65 329.83h4.1v4.1h-4.1ZM205.75 330.52h4.1v4.1h-4.1ZM205.84 331.22h4.1v4.1h-4.1ZM205.94 330.7h4.1v4.1h-4.1ZM206.04 330.62h4.1v4.1h-4.1ZM206.13 330.65h4.1v4.1h-4.1ZM206.23 330.9h4.1v4.1h-4.1ZM206.33 330.07h4.1v4.1h-4.1ZM206.42 330.65h4.1v4.1h-4.1ZM206.52 330.61h4.1v4.1h-4.1ZM206.61 331.41h4.1v4.1h-4.1ZM206.71 330.21h4.1v4.1h-4.1ZM206.8 329.95h4.1v4.1h-4.1ZM206.9 330.7h4.1v4.1h-4.1ZM206.99 330.2h4.1v4.1h-4.1ZM207.08 330.54h4.1v4.1h-4.1ZM207.18 330.5h4.1v4.1h-4.1ZM207.27 331.01h4.1v4.1h-4.1ZM207.36 330.28h4.1v4.1h-4.1ZM207.46 330.64h4.1v4.1h-4.1ZM207.55 329.6h4.1v4.1h-4.1ZM207.64 330.39h4.1v4.1h-4.1ZM207.73 331.51h4.1v4.1h-4.1ZM207.83 330.54h4.1v4.1h-4.1ZM207.92 330.58h4.1v4.1h-4.1ZM208.01 330.42h4.1v4.1h-4.1ZM208.1 331.31h4.1v4.1h-4.1ZM208.19 331.2h4.1v4.1h-4.1ZM208.28 330.61h4.1v4.1h-4.1ZM208.37 331.38h4.1v4.1h-4.1ZM208.46 331.05h4.1v4.1h-4.1ZM208.55 331.06h4.1v4.1h-4.1ZM208.64 330.17h4.1v4.1h-4.1ZM208.73 330.99h4.1v4.1h-4.1ZM208.82 330.23h4.1v4.1h-4.1ZM208.91 329.95h4.1v4.1h-4.1ZM209 329.86h4.1v4.1h-4.1ZM209.09 330.19h4.1v4.1h-4.1ZM209.18 330.98h4.1v4.1h-4.1ZM209.26 330.81h4.1v4.1h-4.1ZM209.35 331.74h4.1v4.1h-4.1ZM209.44 331.78h4.1v4.1h-4.1ZM209.53 332.31h4.1v4.1h-4.1ZM209.61 332.2h4.1v4.1h-4.1ZM209.7 331.9h4.1v4.1h-4.1ZM209.79 331.14h4.1v4.1h-4.1ZM209.87 332.16h4.1v4.1h-4.1ZM209.96 332.34h4.1v4.1h-4.1ZM210.05 331.94h4.1v4.1h-4.1ZM210.13 331.96h4.1v4.1h-4.1ZM210.22 331.31h4.1v4.1h-4.1ZM210.3 331.17h4.1v4.1h-4.1ZM210.39 330.77h4.1v4.1h-4.1ZM210.47 331.75h4.1v4.1h-4.1ZM210.56 331.27h4.1v4.1h-4.1ZM210.64 331.15h4.1v4.1h-4.1ZM210.73 331.03h4.1v4.1h-4.1ZM210.81 331.88h4.1v4.1h-4.1ZM210.9 332.94h4.1v4.1h-4.1ZM210.98 332.78h4.1v4.1h-4.1ZM211.06 332.43h4.1v4.1h-4.1ZM211.15 333.5h4.1v4.1h-4.1ZM211.23 333.47h4.1v4.1h-4.1Z"/>
<path d="M55.42 322.38L63.06 326.89L69.3 330.32L74.57 332.84L79.13 336.02L83.16 337.99L86.75 338.59L90.01 340.46L92.98 343.85L95.71 344.95L98.23 344.87L100.59 346.24L102.79 347.92L104.86 348.32L106.81 351.29L108.65 350.83L110.4 352.03L112.06 351.37L113.65 354.87L115.16 356.19L116.61 358.42L118 357.47L119.34 358.82L120.63 359.36L121.87 360.25L123.06 362.24L124.22 363.23L125.33 363.54L126.42 363.29L127.47 364.88L128.48 365.96L129.47 366.26L130.43 366.99L131.36 367.63L132.27 367.44L133.16 368.74L134.02 370.15L134.86 369.19L135.68 370.4L136.48 371.37L137.27 370.51L138.03 371.67L138.78 371.11L139.51 372.08L140.23 371.85L140.93 372.35L141.62 372.78L142.3 373.13L142.96 373.46L143.61 372.48L144.24 375.23L144.87 374.47L145.48 374.36L146.09 375.05L146.68 376.04L147.26 375.66L147.83 376.37L148.4 376.64L148.95 377.52L149.49 376.99L150.03 377.91L150.56 377.97L151.08 377.69L151.59 378.51L152.1 377.8L152.59 377.22L153.08 378.36L153.57 378.6L154.04 378.91L154.51 379.53L154.98 381.25L155.43 380.37L155.88 380.79L156.33 380.56L156.77 381.62L157.2 380.91L157.63 380.57L158.05 380.43L158.47 381.57L158.89 381.74L159.29 380.35L159.7 380.88L160.09 381.77L160.49 382.14L160.88 380.96L161.26 381.82L161.64 382.9L162.02 382.41L162.39 382.74L162.76 382.87L163.12 382.48L163.48 383.26L163.84 383.32L164.19 382.17L164.54 382.99L164.89 383.56L165.23 383.06L165.57 383.6L165.91 382.84L166.24 384.18L166.57 383.13L166.89 385L167.22 383.87L167.54 383.98L167.85 384.15L168.17 384.72L168.48 384.93L168.79 385.01L169.09 385.38L169.39 386.09L169.69 386.32L169.99 385.68L170.29 386.74L170.58 385.53L170.87 385.63L171.16 385.68L171.44 386.81L171.72 385.58L172 385.72L172.28 387.37L172.56 387.72L172.83 387.64L173.1 386.08L173.37 387.07L173.64 387.57L173.9 387.09L174.17 386L174.43 386.69L174.69 385.84L174.94 386.18L175.2 388.38L175.45 387.79L175.7 386.89L175.95 387.26L176.2 388.78L176.45 388.41L176.69 389.31L176.93 388.7L177.17 389.04L177.41 389.3L177.65 388.49L177.89 387.97L178.12 388.46L178.35 388.84L178.58 389.23L178.81 389.39L179.04 389.43L179.27 389.8L179.49 388.98L179.71 390.41L179.94 390.9L180.16 390.09L180.38 390.22L180.59 391.15L180.81 391.11L181.02 391.11L181.24 391.08L181.45 390.83L181.66 390.6L181.87 391.69L182.08 391.98L182.29 390.6L182.49 391.17L182.7 391.32L182.9 390.92L183.1 390.71L183.3 390.93L183.5 389.99L183.7 391.15L183.9 391.02L184.09 392.51L184.29 391.85L184.48 391.07L184.68 391.19L184.87 392.1L185.06 391.89L185.25 390.91L185.44 390.63L185.63 389.84L185.81 390.57L186 390.8L186.18 390.67L186.37 392.41L186.55 390.5L186.73 391.76L186.91 392.27L187.09 392.44L187.27 393.35L187.45 391.67L187.62 392.24L187.8 392.93L187.97 393.09L188.15 392.86L188.32 392.68L188.49 393.79L188.67 392.48L188.84 392.69L189.01 393.8L189.18 393.89L189.34 393.31L189.51 392.28L189.68 392.36L189.84 392.5L190.01 392.54L190.17 393.14L190.34 394.29L190.5 393.74L190.66 393.17L190.82 393.11L190.98 392.8L191.14 394.16L191.3 392.17L191.46 393.54L191.61 392.55L191.77 392.85L191.93 392.67L192.08 394.2L192.24 393.58L192.39 395.28L192.54 393.01L192.7 393.02L192.85 394.12L193 394.24L193.15 393.88L193.3 392.98L193.45 395.19L193.6 394.78L193.74 394.81L193.89 394.33L194.04 395.16L194.18 394.53L194.33 394.99L194.47 394.93L194.62 395.88L194.76 394.9L194.9 394.99L195.05 395.83L195.19 395.25L195.33 395.04L195.47 394.84L195.61 395.52L195.75 394.55L195.89 395.21L196.02 396.16L196.16 395.2L196.3 394.47L196.44 394.19L196.57 394.96L196.71 394.08L196.84 393.8L196.98 394.3L197.11 394.18L197.24 395.53L197.38 394.35L197.51 396.41L197.64 395.22L197.77 395.93L197.9 396.44L198.03 396.33L198.16 396.77L198.29 395.86L198.42 395.15L198.55 396.4L198.68 395.47L198.8 396.04L198.93 396.83L199.06 396.01L199.18 395.69L199.31 395.37L199.43 395.97L199.56 396.21L199.68 395.56L199.8 396.9L199.93 396.28L200.05 397.21L200.17 396.92L200.29 397.86L200.42 397.82L200.54 397.32L200.66 397.27L200.78 397.62L200.9 398.19L201.02 397.94L201.14 397.28L201.25 397.23L201.37 397.86L201.49 395.85L201.61 397.14L201.72 396.32L201.84 397.74L201.96 396.73L202.07 397.04L202.19 396.49L202.3 397.14L202.42 397.6L202.53 398.17L202.64 396.5L202.76 397.14L202.87 399.93L202.98 398.26L203.09 397.7L203.21 397.93L203.32 395.87L203.43 398.3L203.54 397.33L203.65 396.35L203.76 397.98L203.87 397.02L203.98 396.93L204.09 398.01L204.2 398.07L204.3 397.66L204.41 397.97L204.52 397.26L204.63 397.24L204.73 398.68L204.84 398.96L204.95 398.41L205.05 398.31L205.16 397.74L205.26 397.8L205.37 397.21L205.47 398.75L205.58 397.33L205.68 397.94L205.79 397.76L205.89 397.01L205.99 399.12L206.09 397.8L206.2 397.57L206.3 398.06L206.4 397.38L206.5 397.87L206.6 397.23L206.7 398.12L206.81 397.87L206.91 397.11L207.01 398.65L207.11 398.25L207.2 397.59L207.3 398.57L207.4 398.68L207.5 399.59L207.6 397.97L207.7 398.94L207.8 398.22L207.89 398.43L207.99 397.69L208.09 397.62L208.18 397.86L208.28 396.91L208.38 396.57L208.47 398.14L208.57 398.22L208.66 398.88L208.76 399.48L208.85 399.15L208.95 400.1L209.04 399.39L209.13 399.49L209.23 399.91L209.32 399.7L209.41 399.24L209.51 399.33L209.6 398.72L209.69 398.71L209.78 399.06L209.88 399.43L209.97 398.67L210.06 399.44L210.15 400.12L210.24 400.25L210.33 398.98L210.42 399.63L210.51 399.42L210.6 399.64L210.69 399.79L210.78 399.71L210.87 400L210.96 399.71L211.05 399.48L211.14 399.76L211.23 399.81L211.31 400.15L211.4 399.55L211.49 399.76L211.58 400.21L211.66 398.88L211.75 399.37L211.84 399.95L211.92 399.73L212.01 399.17L212.1 400.37L212.18 399.69L212.27 399.06L212.35 400.71L212.44 398.72L212.52 399.4L212.61 398.92L212.69 399.33L212.78 399.59L212.86 398.79L212.95 399.33L213.03 399.48L213.11 399.13L213.2 400.62L213.28 400.2" stroke="#a65d08" stroke-width="1.0" fill="none" stroke-linejoin="round"/>
<path fill="#a65d08" d="M52.77 324.59L58.07 324.59L55.42 319.69ZM60.41 329.1L65.71 329.1L63.06 324.2ZM66.65 332.53L71.95 332.53L69.3 327.63ZM71.92 335.05L77.22 335.05L74.57 330.15ZM76.48 338.22L81.78 338.22L79.13 333.32ZM80.51 340.2L85.81 340.2L83.16 335.3ZM84.1 340.8L89.4 340.8L86.75 335.9ZM87.36 342.67L92.66 342.67L90.01 337.77ZM90.33 346.06L95.63 346.06L92.98 341.16ZM93.06 347.16L98.36 347.16L95.71 342.26ZM95.58 347.08L100.88 347.08L98.23 342.18ZM97.94 348.44L103.24 348.44L100.59 343.54ZM100.14 350.12L105.44 350.12L102.79 345.22ZM102.21 350.53L107.51 350.53L104.86 345.63ZM104.16 353.49L109.46 353.49L106.81 348.59ZM106 353.03L111.3 353.03L108.65 348.13ZM107.75 354.24L113.05 354.24L110.4 349.34ZM109.41 353.57L114.71 353.57L112.06 348.67ZM111 357.07L116.3 357.07L113.65 352.17ZM112.51 358.39L117.81 358.39L115.16 353.49ZM113.96 360.62L119.26 360.62L116.61 355.72ZM115.35 359.68L120.65 359.68L118 354.78ZM116.69 361.03L121.99 361.03L119.34 356.13ZM117.98 361.57L123.28 361.57L120.63 356.67ZM119.22 362.45L124.52 362.45L121.87 357.55ZM120.41 364.44L125.71 364.44L123.06 359.54ZM121.57 365.43L126.87 365.43L124.22 360.53ZM122.68 365.75L127.98 365.75L125.33 360.85ZM123.77 365.5L129.07 365.5L126.42 360.6ZM124.82 367.08L130.12 367.08L127.47 362.18ZM125.83 368.16L131.13 368.16L128.48 363.26ZM126.82 368.46L132.12 368.46L129.47 363.56ZM127.78 369.2L133.08 369.2L130.43 364.3ZM128.71 369.83L134.01 369.83L131.36 364.93ZM129.62 369.65L134.92 369.65L132.27 364.75ZM130.51 370.94L135.81 370.94L133.16 366.04ZM131.37 372.36L136.67 372.36L134.02 367.46ZM132.21 371.39L137.51 371.39L134.86 366.49ZM133.03 372.6L138.33 372.6L135.68 367.7ZM133.83 373.57L139.13 373.57L136.48 368.67ZM134.62 372.71L139.92 372.71L137.27 367.81ZM135.38 373.88L140.68 373.88L138.03 368.98ZM136.13 373.32L141.43 373.32L138.78 368.42ZM136.86 374.29L142.16 374.29L139.51 369.39ZM137.58 374.05L142.88 374.05L140.23 369.15ZM138.28 374.56L143.58 374.56L140.93 369.66ZM138.97 374.99L144.27 374.99L141.62 370.09ZM139.65 375.33L144.95 375.33L142.3 370.43ZM140.31 375.66L145.61 375.66L142.96 370.76ZM140.96 374.68L146.26 374.68L143.61 369.78ZM141.59 377.43L146.89 377.43L144.24 372.53ZM142.22 376.67L147.52 376.67L144.87 371.77ZM142.83 376.57L148.13 376.57L145.48 371.67ZM143.44 377.26L148.74 377.26L146.09 372.36ZM144.03 378.25L149.33 378.25L146.68 373.35ZM144.61 377.87L149.91 377.87L147.26 372.97ZM145.18 378.57L150.48 378.57L147.83 373.67ZM145.75 378.84L151.05 378.84L148.4 373.94ZM146.3 379.73L151.6 379.73L148.95 374.83ZM146.84 379.2L152.14 379.2L149.49 374.3ZM147.38 380.12L152.68 380.12L150.03 375.22ZM147.91 380.17L153.21 380.17L150.56 375.27ZM148.43 379.9L153.73 379.9L151.08 375ZM148.94 380.71L154.24 380.71L151.59 375.81ZM149.45 380L154.75 380L152.1 375.1ZM149.94 379.43L155.24 379.43L152.59 374.53ZM150.43 380.57L155.73 380.57L153.08 375.67ZM150.92 380.81L156.22 380.81L153.57 375.91ZM151.39 381.12L156.69 381.12L154.04 376.22ZM151.86 381.73L157.16 381.73L154.51 376.83ZM152.33 383.45L157.63 383.45L154.98 378.55ZM152.78 382.57L158.08 382.57L155.43 377.67ZM153.23 382.99L158.53 382.99L155.88 378.09ZM153.68 382.76L158.98 382.76L156.33 377.86ZM154.12 383.82L159.42 383.82L156.77 378.92ZM154.55 383.11L159.85 383.11L157.2 378.21ZM154.98 382.78L160.28 382.78L157.63 377.88ZM155.4 382.64L160.7 382.64L158.05 377.74ZM155.82 383.78L161.12 383.78L158.47 378.88ZM156.24 383.95L161.54 383.95L158.89 379.05ZM156.64 382.55L161.94 382.55L159.29 377.65ZM157.05 383.09L162.35 383.09L159.7 378.19ZM157.44 383.97L162.74 383.97L160.09 379.07ZM157.84 384.34L163.14 384.34L160.49 379.44ZM158.23 383.17L163.53 383.17L160.88 378.27ZM158.61 384.02L163.91 384.02L161.26 379.12ZM158.99 385.1L164.29 385.1L161.64 380.2ZM159.37 384.62L164.67 384.62L162.02 379.72ZM159.74 384.95L165.04 384.95L162.39 380.05ZM160.11 385.08L165.41 385.08L162.76 380.18ZM160.47 384.69L165.77 384.69L163.12 379.79ZM160.83 385.47L166.13 385.47L163.48 380.57ZM161.19 385.52L166.49 385.52L163.84 380.62ZM161.54 384.38L166.84 384.38L164.19 379.48ZM161.89 385.19L167.19 385.19L164.54 380.29ZM162.24 385.77L167.54 385.77L164.89 380.87ZM162.58 385.26L167.88 385.26L165.23 380.36ZM162.92 385.81L168.22 385.81L165.57 380.91ZM163.26 385.05L168.56 385.05L165.91 380.15ZM163.59 386.39L168.89 386.39L166.24 381.49ZM163.92 385.33L169.22 385.33L166.57 380.43ZM164.24 387.2L169.54 387.2L166.89 382.3ZM164.57 386.07L169.87 386.07L167.22 381.17ZM164.89 386.18L170.19 386.18L167.54 381.28ZM165.2 386.36L170.5 386.36L167.85 381.46ZM165.52 386.93L170.82 386.93L168.17 382.03ZM165.83 387.13L171.13 387.13L168.48 382.23ZM166.14 387.21L171.44 387.21L168.79 382.31ZM166.44 387.58L171.74 387.58L169.09 382.68ZM166.74 388.29L172.04 388.29L169.39 383.39ZM167.04 388.52L172.34 388.52L169.69 383.62ZM167.34 387.89L172.64 387.89L169.99 382.99ZM167.64 388.95L172.94 388.95L170.29 384.05ZM167.93 387.74L173.23 387.74L170.58 382.84ZM168.22 387.84L173.52 387.84L170.87 382.94ZM168.51 387.88L173.81 387.88L171.16 382.98ZM168.79 389.02L174.09 389.02L171.44 384.12ZM169.07 387.79L174.37 387.79L171.72 382.89ZM169.35 387.92L174.65 387.92L172 383.02ZM169.63 389.58L174.93 389.58L172.28 384.68ZM169.91 389.93L175.21 389.93L172.56 385.03ZM170.18 389.85L175.48 389.85L172.83 384.95ZM170.45 388.29L175.75 388.29L173.1 383.39ZM170.72 389.27L176.02 389.27L173.37 384.37ZM170.99 389.77L176.29 389.77L173.64 384.87ZM171.25 389.3L176.55 389.3L173.9 384.4ZM171.52 388.21L176.82 388.21L174.17 383.31ZM171.78 388.9L177.08 388.9L174.43 384ZM172.04 388.05L177.34 388.05L174.69 383.15ZM172.29 388.38L177.59 388.38L174.94 383.48ZM172.55 390.58L177.85 390.58L175.2 385.68ZM172.8 389.99L178.1 389.99L175.45 385.09ZM173.05 389.09L178.35 389.09L175.7 384.19ZM173.3 389.47L178.6 389.47L175.95 384.57ZM173.55 390.99L178.85 390.99L176.2 386.09ZM173.8 390.62L179.1 390.62L176.45 385.72ZM174.04 391.52L179.34 391.52L176.69 386.62ZM174.28 390.9L179.58 390.9L176.93 386ZM174.52 391.25L179.82 391.25L177.17 386.35ZM174.76 391.5L180.06 391.5L177.41 386.6ZM175 390.7L180.3 390.7L177.65 385.8ZM175.24 390.17L180.54 390.17L177.89 385.27ZM175.47 390.66L180.77 390.66L178.12 385.76ZM175.7 391.05L181 391.05L178.35 386.15ZM175.93 391.44L181.23 391.44L178.58 386.54ZM176.16 391.6L181.46 391.6L178.81 386.7ZM176.39 391.64L181.69 391.64L179.04 386.74ZM176.62 392L181.92 392L179.27 387.1ZM176.84 391.19L182.14 391.19L179.49 386.29ZM177.06 392.62L182.36 392.62L179.71 387.72ZM177.29 393.1L182.59 393.1L179.94 388.2ZM177.51 392.3L182.81 392.3L180.16 387.4ZM177.73 392.43L183.03 392.43L180.38 387.53ZM177.94 393.36L183.24 393.36L180.59 388.46ZM178.16 393.32L183.46 393.32L180.81 388.42ZM178.37 393.31L183.67 393.31L181.02 388.41ZM178.59 393.29L183.89 393.29L181.24 388.39ZM178.8 393.04L184.1 393.04L181.45 388.14ZM179.01 392.8L184.31 392.8L181.66 387.9ZM179.22 393.89L184.52 393.89L181.87 388.99ZM179.43 394.18L184.73 394.18L182.08 389.28ZM179.64 392.81L184.94 392.81L182.29 387.91ZM179.84 393.37L185.14 393.37L182.49 388.47ZM180.05 393.52L185.35 393.52L182.7 388.62ZM180.25 393.12L185.55 393.12L182.9 388.22ZM180.45 392.91L185.75 392.91L183.1 388.01ZM180.65 393.14L185.95 393.14L183.3 388.24ZM180.85 392.2L186.15 392.2L183.5 387.3ZM181.05 393.35L186.35 393.35L183.7 388.45ZM181.25 393.23L186.55 393.23L183.9 388.33ZM181.44 394.72L186.74 394.72L184.09 389.82ZM181.64 394.05L186.94 394.05L184.29 389.15ZM181.83 393.27L187.13 393.27L184.48 388.37ZM182.03 393.4L187.33 393.4L184.68 388.5ZM182.22 394.3L187.52 394.3L184.87 389.4ZM182.41 394.09L187.71 394.09L185.06 389.19ZM182.6 393.11L187.9 393.11L185.25 388.21ZM182.79 392.84L188.09 392.84L185.44 387.94ZM182.98 392.04L188.28 392.04L185.63 387.14ZM183.16 392.78L188.46 392.78L185.81 387.88ZM183.35 393.01L188.65 393.01L186 388.11ZM183.53 392.88L188.83 392.88L186.18 387.98ZM183.72 394.61L189.02 394.61L186.37 389.71ZM183.9 392.71L189.2 392.71L186.55 387.81ZM184.08 393.97L189.38 393.97L186.73 389.07ZM184.26 394.47L189.56 394.47L186.91 389.57ZM184.44 394.65L189.74 394.65L187.09 389.75ZM184.62 395.56L189.92 395.56L187.27 390.66ZM184.8 393.87L190.1 393.87L187.45 388.97ZM184.97 394.45L190.27 394.45L187.62 389.55ZM185.15 395.14L190.45 395.14L187.8 390.24ZM185.32 395.3L190.62 395.3L187.97 390.4ZM185.5 395.06L190.8 395.06L188.15 390.16ZM185.67 394.88L190.97 394.88L188.32 389.98ZM185.84 396L191.14 396L188.49 391.1ZM186.02 394.69L191.32 394.69L188.67 389.79ZM186.19 394.9L191.49 394.9L188.84 390ZM186.36 396.01L191.66 396.01L189.01 391.11ZM186.53 396.09L191.83 396.09L189.18 391.19ZM186.69 395.52L191.99 395.52L189.34 390.62ZM186.86 394.48L192.16 394.48L189.51 389.58ZM187.03 394.57L192.33 394.57L189.68 389.67ZM187.19 394.7L192.49 394.7L189.84 389.8ZM187.36 394.74L192.66 394.74L190.01 389.84ZM187.52 395.35L192.82 395.35L190.17 390.45ZM187.69 396.5L192.99 396.5L190.34 391.6ZM187.85 395.95L193.15 395.95L190.5 391.05ZM188.01 395.37L193.31 395.37L190.66 390.47ZM188.17 395.31L193.47 395.31L190.82 390.41ZM188.33 395.01L193.63 395.01L190.98 390.11ZM188.49 396.36L193.79 396.36L191.14 391.46ZM188.65 394.37L193.95 394.37L191.3 389.47ZM188.81 395.74L194.11 395.74L191.46 390.84ZM188.96 394.75L194.26 394.75L191.61 389.85ZM189.12 395.05L194.42 395.05L191.77 390.15ZM189.28 394.88L194.58 394.88L191.93 389.98ZM189.43 396.4L194.73 396.4L192.08 391.5ZM189.59 395.79L194.89 395.79L192.24 390.89ZM189.74 397.48L195.04 397.48L192.39 392.58ZM189.89 395.22L195.19 395.22L192.54 390.32ZM190.05 395.22L195.35 395.22L192.7 390.32ZM190.2 396.33L195.5 396.33L192.85 391.43ZM190.35 396.44L195.65 396.44L193 391.54ZM190.5 396.08L195.8 396.08L193.15 391.18ZM190.65 395.18L195.95 395.18L193.3 390.28ZM190.8 397.39L196.1 397.39L193.45 392.49ZM190.95 396.99L196.25 396.99L193.6 392.09ZM191.09 397.01L196.39 397.01L193.74 392.11ZM191.24 396.54L196.54 396.54L193.89 391.64ZM191.39 397.37L196.69 397.37L194.04 392.47ZM191.53 396.73L196.83 396.73L194.18 391.83ZM191.68 397.19L196.98 397.19L194.33 392.29ZM191.82 397.13L197.12 397.13L194.47 392.23ZM191.97 398.08L197.27 398.08L194.62 393.18ZM192.11 397.11L197.41 397.11L194.76 392.21ZM192.25 397.2L197.55 397.2L194.9 392.3ZM192.4 398.04L197.7 398.04L195.05 393.14ZM192.54 397.45L197.84 397.45L195.19 392.55ZM192.68 397.24L197.98 397.24L195.33 392.34ZM192.82 397.05L198.12 397.05L195.47 392.15ZM192.96 397.73L198.26 397.73L195.61 392.83ZM193.1 396.75L198.4 396.75L195.75 391.85ZM193.24 397.42L198.54 397.42L195.89 392.52ZM193.37 398.37L198.67 398.37L196.02 393.47ZM193.51 397.4L198.81 397.4L196.16 392.5ZM193.65 396.67L198.95 396.67L196.3 391.77ZM193.79 396.39L199.09 396.39L196.44 391.49ZM193.92 397.17L199.22 397.17L196.57 392.27ZM194.06 396.28L199.36 396.28L196.71 391.38ZM194.19 396L199.49 396L196.84 391.1ZM194.33 396.51L199.63 396.51L196.98 391.61ZM194.46 396.39L199.76 396.39L197.11 391.49ZM194.59 397.73L199.89 397.73L197.24 392.83ZM194.73 396.56L200.03 396.56L197.38 391.66ZM194.86 398.62L200.16 398.62L197.51 393.72ZM194.99 397.42L200.29 397.42L197.64 392.52ZM195.12 398.14L200.42 398.14L197.77 393.24ZM195.25 398.64L200.55 398.64L197.9 393.74ZM195.38 398.53L200.68 398.53L198.03 393.63ZM195.51 398.98L200.81 398.98L198.16 394.08ZM195.64 398.07L200.94 398.07L198.29 393.17ZM195.77 397.35L201.07 397.35L198.42 392.45ZM195.9 398.6L201.2 398.6L198.55 393.7ZM196.03 397.67L201.33 397.67L198.68 392.77ZM196.15 398.25L201.45 398.25L198.8 393.35ZM196.28 399.03L201.58 399.03L198.93 394.13ZM196.41 398.21L201.71 398.21L199.06 393.31ZM196.53 397.89L201.83 397.89L199.18 392.99ZM196.66 397.57L201.96 397.57L199.31 392.67ZM196.78 398.18L202.08 398.18L199.43 393.28ZM196.91 398.42L202.21 398.42L199.56 393.52ZM197.03 397.77L202.33 397.77L199.68 392.87ZM197.15 399.11L202.45 399.11L199.8 394.21ZM197.28 398.49L202.58 398.49L199.93 393.59ZM197.4 399.42L202.7 399.42L200.05 394.52ZM197.52 399.13L202.82 399.13L200.17 394.23ZM197.64 400.07L202.94 400.07L200.29 395.17ZM197.77 400.02L203.07 400.02L200.42 395.12ZM197.89 399.52L203.19 399.52L200.54 394.62ZM198.01 399.47L203.31 399.47L200.66 394.57ZM198.13 399.83L203.43 399.83L200.78 394.93ZM198.25 400.39L203.55 400.39L200.9 395.49ZM198.37 400.14L203.67 400.14L201.02 395.24ZM198.49 399.49L203.79 399.49L201.14 394.59ZM198.6 399.44L203.9 399.44L201.25 394.54ZM198.72 400.07L204.02 400.07L201.37 395.17ZM198.84 398.06L204.14 398.06L201.49 393.16ZM198.96 399.35L204.26 399.35L201.61 394.45ZM199.07 398.52L204.37 398.52L201.72 393.62ZM199.19 399.95L204.49 399.95L201.84 395.05ZM199.31 398.93L204.61 398.93L201.96 394.03ZM199.42 399.25L204.72 399.25L202.07 394.35ZM199.54 398.69L204.84 398.69L202.19 393.79ZM199.65 399.35L204.95 399.35L202.3 394.45ZM199.77 399.81L205.07 399.81L202.42 394.91ZM199.88 400.37L205.18 400.37L202.53 395.47ZM199.99 398.7L205.29 398.7L202.64 393.8ZM200.11 399.35L205.41 399.35L202.76 394.45ZM200.22 402.13L205.52 402.13L202.87 397.23ZM200.33 400.47L205.63 400.47L202.98 395.57ZM200.44 399.91L205.74 399.91L203.09 395.01ZM200.56 400.14L205.86 400.14L203.21 395.24ZM200.67 398.07L205.97 398.07L203.32 393.17ZM200.78 400.5L206.08 400.5L203.43 395.6ZM200.89 399.53L206.19 399.53L203.54 394.63ZM201 398.56L206.3 398.56L203.65 393.66ZM201.11 400.19L206.41 400.19L203.76 395.29ZM201.22 399.23L206.52 399.23L203.87 394.33ZM201.33 399.13L206.63 399.13L203.98 394.23ZM201.44 400.21L206.74 400.21L204.09 395.31ZM201.55 400.28L206.85 400.28L204.2 395.38ZM201.65 399.87L206.95 399.87L204.3 394.97ZM201.76 400.18L207.06 400.18L204.41 395.28ZM201.87 399.46L207.17 399.46L204.52 394.56ZM201.98 399.44L207.28 399.44L204.63 394.54ZM202.08 400.89L207.38 400.89L204.73 395.99ZM202.19 401.16L207.49 401.16L204.84 396.26ZM202.3 400.62L207.6 400.62L204.95 395.72ZM202.4 400.51L207.7 400.51L205.05 395.61ZM202.51 399.95L207.81 399.95L205.16 395.05ZM202.61 400.01L207.91 400.01L205.26 395.11ZM202.72 399.42L208.02 399.42L205.37 394.52ZM202.82 400.95L208.12 400.95L205.47 396.05ZM202.93 399.53L208.23 399.53L205.58 394.63ZM203.03 400.15L208.33 400.15L205.68 395.25ZM203.14 399.97L208.44 399.97L205.79 395.07ZM203.24 399.22L208.54 399.22L205.89 394.32ZM203.34 401.33L208.64 401.33L205.99 396.43ZM203.44 400L208.74 400L206.09 395.1ZM203.55 399.78L208.85 399.78L206.2 394.88ZM203.65 400.27L208.95 400.27L206.3 395.37ZM203.75 399.59L209.05 399.59L206.4 394.69ZM203.85 400.08L209.15 400.08L206.5 395.18ZM203.95 399.43L209.25 399.43L206.6 394.53ZM204.05 400.33L209.35 400.33L206.7 395.43ZM204.16 400.07L209.46 400.07L206.81 395.17ZM204.26 399.31L209.56 399.31L206.91 394.41ZM204.36 400.85L209.66 400.85L207.01 395.95ZM204.46 400.45L209.76 400.45L207.11 395.55ZM204.55 399.79L209.85 399.79L207.2 394.89ZM204.65 400.77L209.95 400.77L207.3 395.87ZM204.75 400.88L210.05 400.88L207.4 395.98ZM204.85 401.8L210.15 401.8L207.5 396.9ZM204.95 400.17L210.25 400.17L207.6 395.27ZM205.05 401.14L210.35 401.14L207.7 396.24ZM205.15 400.42L210.45 400.42L207.8 395.52ZM205.24 400.64L210.54 400.64L207.89 395.74ZM205.34 399.89L210.64 399.89L207.99 394.99ZM205.44 399.83L210.74 399.83L208.09 394.93ZM205.53 400.07L210.83 400.07L208.18 395.17ZM205.63 399.11L210.93 399.11L208.28 394.21ZM205.73 398.78L211.03 398.78L208.38 393.88ZM205.82 400.34L211.12 400.34L208.47 395.44ZM205.92 400.43L211.22 400.43L208.57 395.53ZM206.01 401.08L211.31 401.08L208.66 396.18ZM206.11 401.69L211.41 401.69L208.76 396.79ZM206.2 401.35L211.5 401.35L208.85 396.45ZM206.3 402.3L211.6 402.3L208.95 397.4ZM206.39 401.6L211.69 401.6L209.04 396.7ZM206.48 401.7L211.78 401.7L209.13 396.8ZM206.58 402.11L211.88 402.11L209.23 397.21ZM206.67 401.91L211.97 401.91L209.32 397.01ZM206.76 401.45L212.06 401.45L209.41 396.55ZM206.86 401.53L212.16 401.53L209.51 396.63ZM206.95 400.93L212.25 400.93L209.6 396.03ZM207.04 400.92L212.34 400.92L209.69 396.02ZM207.13 401.26L212.43 401.26L209.78 396.36ZM207.23 401.64L212.53 401.64L209.88 396.74ZM207.32 400.87L212.62 400.87L209.97 395.97ZM207.41 401.65L212.71 401.65L210.06 396.75ZM207.5 402.33L212.8 402.33L210.15 397.43ZM207.59 402.46L212.89 402.46L210.24 397.56ZM207.68 401.19L212.98 401.19L210.33 396.29ZM207.77 401.83L213.07 401.83L210.42 396.93ZM207.86 401.63L213.16 401.63L210.51 396.73ZM207.95 401.84L213.25 401.84L210.6 396.94ZM208.04 401.99L213.34 401.99L210.69 397.09ZM208.13 401.91L213.43 401.91L210.78 397.01ZM208.22 402.2L213.52 402.2L210.87 397.3ZM208.31 401.91L213.61 401.91L210.96 397.01ZM208.4 401.68L213.7 401.68L211.05 396.78ZM208.49 401.96L213.79 401.96L211.14 397.06ZM208.58 402.02L213.88 402.02L211.23 397.12ZM208.66 402.35L213.96 402.35L211.31 397.45ZM208.75 401.76L214.05 401.76L211.4 396.86ZM208.84 401.96L214.14 401.96L211.49 397.06ZM208.93 402.42L214.23 402.42L211.58 397.52ZM209.01 401.08L214.31 401.08L211.66 396.18ZM209.1 401.58L214.4 401.58L211.75 396.68ZM209.19 402.15L214.49 402.15L211.84 397.25ZM209.27 401.94L214.57 401.94L211.92 397.04ZM209.36 401.37L214.66 401.37L212.01 396.47ZM209.45 402.58L214.75 402.58L212.1 397.68ZM209.53 401.89L214.83 401.89L212.18 396.99ZM209.62 401.26L214.92 401.26L212.27 396.36ZM209.7 402.92L215 402.92L212.35 398.02ZM209.79 400.92L215.09 400.92L212.44 396.02ZM209.87 401.6L215.17 401.6L212.52 396.7ZM209.96 401.13L215.26 401.13L212.61 396.23ZM210.04 401.54L215.34 401.54L212.69 396.64ZM210.13 401.79L215.43 401.79L212.78 396.89ZM210.21 400.99L215.51 400.99L212.86 396.09ZM210.3 401.53L215.6 401.53L212.95 396.63ZM210.38 401.68L215.68 401.68L213.03 396.78ZM210.46 401.34L215.76 401.34L213.11 396.44ZM210.55 402.82L215.85 402.82L213.2 397.92ZM210.63 402.4L215.93 402.4L213.28 397.5Z"/>
<path d="M55.42 291.32L63.06 296.29L69.3 298.84L74.57 301.03L79.13 304.48L83.16 306.59L86.75 309.07L90.01 310.21L92.98 311.03L95.71 312.37L98.23 314.26L100.59 316.09L102.79 317.84L104.86 318.32L106.81 318.18L108.65 316.43L110.4 319.83L112.06 321.72L113.65 323.5L115.16 323.45L116.61 324.5L118 325.85L119.34 326.86L120.63 326.47L121.87 327.1L123.06 327.6L124.22 328.06L125.33 328.23L126.42 329.43L127.47 330.04L128.48 331.48L129.47 331.68L130.43 331.3L131.36 331.29L132.27 332.65L133.16 333.46L134.02 333.39L134.86 334.16L135.68 334.07L136.48 334.27L137.27 335.88L138.03 336.23L138.78 337.09L139.51 336.68L140.23 337.85L140.93 337.94L141.62 339.08L142.3 338.97L142.96 339.51L143.61 340.08L144.24 341.43L144.87 341.36L145.48 341.42L146.09 341.63L146.68 341.84L147.26 343.12L147.83 341.79L148.4 342.43L148.95 343.37L149.49 343.93L150.03 343.68L150.56 344.46L151.08 344.81L151.59 345.25L152.1 345.12L152.59 346.11L153.08 345.71L153.57 346.56L154.04 345.64L154.51 346.85L154.98 346.13L155.43 346.23L155.88 347.28L156.33 346.8L156.77 347.46L157.2 346.81L157.63 348.01L158.05 347.31L158.47 346.86L158.89 347.56L159.29 348.05L159.7 347.52L160.09 348.34L160.49 349.28L160.88 349.01L161.26 348.89L161.64 348.9L162.02 349.62L162.39 348.82L162.76 348.25L163.12 349.44L163.48 349.39L163.84 350.82L164.19 350.27L164.54 349.94L164.89 350.04L165.23 350.94L165.57 350.48L165.91 350.7L166.24 351L166.57 351.12L166.89 351.14L167.22 351.17L167.54 351.75L167.85 352L168.17 350.58L168.48 352.59L168.79 351.65L169.09 352.35L169.39 351.68L169.69 352.41L169.99 352.58L170.29 352.72L170.58 353.2L170.87 353.22L171.16 352.59L171.44 353.06L171.72 353.5L172 353.55L172.28 353.17L172.56 353.28L172.83 353.41L173.1 353.08L173.37 353.14L173.64 354.6L173.9 353.94L174.17 354.41L174.43 354.25L174.69 355.36L174.94 355.7L175.2 354.91L175.45 355.3L175.7 354.76L175.95 355.94L176.2 355.68L176.45 355.07L176.69 356.24L176.93 356.08L177.17 356.31L177.41 356.43L177.65 356.02L177.89 356.06L178.12 356.5L178.35 356.08L178.58 355.55L178.81 356.78L179.04 355.72L179.27 355.57L179.49 355.53L179.71 356.21L179.94 356.38L180.16 356.07L180.38 356.35L180.59 355.28L180.81 355.83L181.02 355.89L181.24 356.27L181.45 356.72L181.66 355.84L181.87 358.42L182.08 356.86L182.29 357.62L182.49 357.99L182.7 358.12L182.9 357.93L183.1 356.59L183.3 357.48L183.5 358.36L183.7 357.62L183.9 357.53L184.09 356.9L184.29 358.49L184.48 358.2L184.68 357.65L184.87 358.09L185.06 358.24L185.25 357.91L185.44 358.39L185.63 358.71L185.81 358.92L186 359.31L186.18 358.79L186.37 358.61L186.55 359.02L186.73 358.55L186.91 358.2L187.09 359.14L187.27 358.28L187.45 358.31L187.62 358.38L187.8 357.51L187.97 358.36L188.15 358.45L188.32 358.46L188.49 359L188.67 358.83L188.84 358.52L189.01 359.64L189.18 359.51L189.34 360.35L189.51 360.02L189.68 359.57L189.84 359.71L190.01 360.22L190.17 360.09L190.34 359.78L190.5 359.92L190.66 359.74L190.82 359.92L190.98 360.3L191.14 359.98L191.3 360.16L191.46 359.52L191.61 359.28L191.77 359.28L191.93 359.89L192.08 360.73L192.24 360.68L192.39 359.64L192.54 359.26L192.7 360.15L192.85 359.89L193 359.02L193.15 360.16L193.3 359.89L193.45 360.59L193.6 360.35L193.74 360.81L193.89 360.76L194.04 360.38L194.18 360.86L194.33 360.79L194.47 361.59L194.62 360.88L194.76 360.72L194.9 361.77L195.05 362.01L195.19 362.19L195.33 362.07L195.47 360.91L195.61 361.27L195.75 361.32L195.89 361.52L196.02 360.5L196.16 361.4L196.3 361.46L196.44 360.87L196.57 361.33L196.71 361.82L196.84 361.35L196.98 361.83L197.11 361.81L197.24 361.5L197.38 361.46L197.51 361.12L197.64 361.87L197.77 361.15L197.9 361.12L198.03 361.84L198.16 361.28L198.29 361.88L198.42 362.25L198.55 361.9L198.68 361.98L198.8 362.41L198.93 362.42L199.06 361.47L199.18 361.67L199.31 362.94L199.43 362.58L199.56 361.5L199.68 361.82L199.8 362.4L199.93 361.9L200.05 362.49L200.17 362.25L200.29 362.39L200.42 361.64L200.54 362.48L200.66 363.18L200.78 362.08L200.9 363.13L201.02 363.03L201.14 362.89L201.25 362.57L201.37 362.07L201.49 362.19L201.61 362.9L201.72 362.96L201.84 363.01L201.96 362.81L202.07 362.69L202.19 362L202.3 361.58L202.42 362.24L202.53 362.51L202.64 362.58L202.76 362.15L202.87 362.84L202.98 362.56L203.09 363.35L203.21 362.79L203.32 363.11L203.43 363.24L203.54 363.06L203.65 363.52L203.76 362.37L203.87 361.89L203.98 363.33L204.09 363.58L204.2 363.65L204.3 363.19L204.41 363.4L204.52 363.36L204.63 362.92L204.73 363.44L204.84 364.08L204.95 363.68L205.05 364.77L205.16 363.1L205.26 363.41L205.37 363.88L205.47 362.92L205.58 362.55L205.68 362.39L205.79 362.71L205.89 363.78L205.99 363.33L206.09 363.35L206.2 362.79L206.3 363.27L206.4 362.8L206.5 362.23L206.6 362.39L206.7 362.71L206.81 363.2L206.91 362.72L207.01 363.03L207.11 363.78L207.2 362.59L207.3 362.51L207.4 363.69L207.5 363.66L207.6 363.61L207.7 363.88L207.8 363.66L207.89 364.05L207.99 363.65L208.09 364.09L208.18 363.11L208.28 363.15L208.38 363.47L208.47 363.13L208.57 363.61L208.66 363.25L208.76 362.99L208.85 363.29L208.95 362.92L209.04 362.45L209.13 362.65L209.23 362.79L209.32 362.93L209.41 363.2L209.51 363.65L209.6 363.62L209.69 364.35L209.78 364.32L209.88 363.88L209.97 364.94L210.06 364.97L210.15 364.47L210.24 365.03L210.33 365.55L210.42 365.29L210.51 365.72L210.6 365.5L210.69 365.67L210.78 365.26L210.87 365.64L210.96 365.4L211.05 365.98L211.14 365L211.23 365.94L211.31 366.3L211.4 365.87L211.49 365.4L211.58 365.4L211.66 364.5L211.75 364.25L211.84 364.28L211.92 364.29L212.01 364.79L212.1 363.98L212.18 364.89L212.27 363.77L212.35 364.15L212.44 364.52L212.52 365.08L212.61 364.31L212.69 363.64L212.78 364.8L212.86 364.6L212.95 364.12L213.03 364.1L213.11 364.18L213.2 364.43L213.28 364.61" stroke="#3366b5" stroke-width="1.0" fill="none" stroke-linejoin="round"/>
<path fill="#3366b5" d="M53.22 291.32a2.2 2.2 0 1 0 4.4 0a2.2 2.2 0 1 0 -4.4 0ZM60.86 296.29a2.2 2.2 0 1 0 4.4 0a2.2 2.2 0 1 0 -4.4 0ZM67.1 298.84a2.2 2.2 0 1 0 4.4 0a2.2 2.2 0 1 0 -4.4 0ZM72.37 301.03a2.2 2.2 0 1 0 4.4 0a2.2 2.2 0 1 0 -4.4 0ZM76.93 304.48a2.2 2.2 0 1 0 4.4 0a2.2 2.2 0 1 0 -4.4 0ZM80.96 306.59a2.2 2.2 0 1 0 4.4 0a2.2 2.2 0 1 0 -4.4 0ZM84.55 309.07a2.2 2.2 0 1 0 4.4 0a2.2 2.2 0 1 0 -4.4 0ZM87.81 310.21a2.2 2.2 0 1 0 4.4 0a2.2 2.2 0 1 0 -4.4 0ZM90.78 311.03a2.2 2.2 0 1 0 4.4 0a2.2 2.2 0 1 0 -4.4 0ZM93.51 312.37a2.2 2.2 0 1 0 4.4 0a2.2 2.2 0 1 0 -4.4 0ZM96.03 314.26a2.2 2.2 0 1 0 4.4 0a2.2 2.2 0 1 0 -4.4 0ZM98.39 316.09a2.2 2.2 0 1 0 4.4 0a2.2 2.2 0 1 0 -4.4 0ZM100.59 317.84a2.2 2.2 0 1 0 4.4 0a2.2 2.2 0 1 0 -4.4 0ZM102.66 318.32a2.2 2.2 0 1 0 4.4 0a2.2 2.2 0 1 0 -4.4 0ZM104.61 318.18a2.2 2.2 0 1 0 4.4 0a2.2 2.2 0 1 0 -4.4 0ZM106.45 316.43a2.2 2.2 0 1 0 4.4 0a2.2 2.2 0 1 0 -4.4 0ZM108.2 319.83a2.2 2.2 0 1 0 4.4 0a2.2 2.2 0 1 0 -4.4 0ZM109.86 321.72a2.2 2.2 0 1 0 4.4 0a2.2 2.2 0 1 0 -4.4 0ZM111.45 323.5a2.2 2.2 0 1 0 4.4 0a2.2 2.2 0 1 0 -4.4 0ZM112.96 323.45a2.2 2.2 0 1 0 4.4 0a2.2 2.2 0 1 0 -4.4 0ZM114.41 324.5a2.2 2.2 0 1 0 4.4 0a2.2 2.2 0 1 0 -4.4 0ZM115.8 325.85a2.2 2.2 0 1 0 4.4 0a2.2 2.2 0 1 0 -4.4 0ZM117.14 326.86a2.2 2.2 0 1 0 4.4 0a2.2 2.2 0 1 0 -4.4 0ZM118.43 326.47a2.2 2.2 0 1 0 4.4 0a2.2 2.2 0 1 0 -4.4 0ZM119.67 327.1a2.2 2.2 0 1 0 4.4 0a2.2 2.2 0 1 0 -4.4 0ZM120.86 327.6a2.2 2.2 0 1 0 4.4 0a2.2 2.2 0 1 0 -4.4 0ZM122.02 328.06a2.2 2.2 0 1 0 4.4 0a2.2 2.2 0 1 0 -4.4 0ZM123.13 328.23a2.2 2.2 0 1 0 4.4 0a2.2 2.2 0 1 0 -4.4 0ZM124.22 329.43a2.2 2.2 0 1 0 4.4 0a2.2 2.2 0 1 0 -4.4 0ZM125.27 330.04a2.2 2.2 0 1 0 4.4 0a2.2 2.2 0 1 0 -4.4 0ZM126.28 331.48a2.2 2.2 0 1 0 4.4 0a2.2 2.2 0 1 0 -4.4 0ZM127.27 331.68a2.2 2.2 0 1 0 4.4 0a2.2 2.2 0 1 0 -4.4 0ZM128.23 331.3a2.2 2.2 0 1 0 4.4 0a2.2 2.2 0 1 0 -4.4 0ZM129.16 331.29a2.2 2.2 0 1 0 4.4 0a2.2 2.2 0 1 0 -4.4 0ZM130.07 332.65a2.2 2.2 0 1 0 4.4 0a2.2 2.2 0 1 0 -4.4 0ZM130.96 333.46a2.2 2.2 0 1 0 4.4 0a2.2 2.2 0 1 0 -4.4 0ZM131.82 333.39a2.2 2.2 0 1 0 4.4 0a2.2 2.2 0 1 0 -4.4 0ZM132.66 334.16a2.2 2.2 0 1 0 4.4 0a2.2 2.2 0 1 0 -4.4 0ZM133.48 334.07a2.2 2.2 0 1 0 4.4 0a2.2 2.2 0 1 0 -4.4 0ZM134.28 334.27a2.2 2.2 0 1 0 4.4 0a2.2 2.2 0 1 0 -4.4 0ZM135.07 335.88a2.2 2.2 0 1 0 4.4 0a2.2 2.2 0 1 0 -4.4 0ZM135.83 336.23a2.2 2.2 0 1 0 4.4 0a2.2 2.2 0 1 0 -4.4 0ZM136.58 337.09a2.2 2.2 0 1 0 4.4 0a2.2 2.2 0 1 0 -4.4 0ZM137.31 336.68a2.2 2.2 0 1 0 4.4 0a2.2 2.2 0 1 0 -4.4 0ZM138.03 337.85a2.2 2.2 0 1 0 4.4 0a2.2 2.2 0 1 0 -4.4 0ZM138.73 337.94a2.2 2.2 0 1 0 4.4 0a2.2 2.2 0 1 0 -4.4 0ZM139.42 339.08a2.2 2.2 0 1 0 4.4 0a2.2 2.2 0 1 0 -4.4 0ZM140.1 338.97a2.2 2.2 0 1 0 4.4 0a2.2 2.2 0 1 0 -4.4 0ZM140.76 339.51a2.2 2.2 0 1 0 4.4 0a2.2 2.2 0 1 0 -4.4 0ZM141.41 340.08a2.2 2.2 0 1 0 4.4 0a2.2 2.2 0 1 0 -4.4 0ZM142.04 341.43a2.2 2.2 0 1 0 4.4 0a2.2 2.2 0 1 0 -4.4 0ZM142.67 341.36a2.2 2.2 0 1 0 4.4 0a2.2 2.2 0 1 0 -4.4 0ZM143.28 341.42a2.2 2.2 0 1 0 4.4 0a2.2 2.2 0 1 0 -4.4 0ZM143.89 341.63a2.2 2.2 0 1 0 4.4 0a2.2 2.2 0 1 0 -4.4 0ZM144.48 341.84a2.2 2.2 0 1 0 4.4 0a2.2 2.2 0 1 0 -4.4 0ZM145.06 343.12a2.2 2.2 0 1 0 4.4 0a2.2 2.2 0 1 0 -4.4 0ZM145.63 341.79a2.2 2.2 0 1 0 4.4 0a2.2 2.2 0 1 0 -4.4 0ZM146.2 342.43a2.2 2.2 0 1 0 4.4 0a2.2 2.2 0 1 0 -4.4 0ZM146.75 343.37a2.2 2.2 0 1 0 4.4 0a2.2 2.2 0 1 0 -4.4 0ZM147.29 343.93a2.2 2.2 0 1 0 4.4 0a2.2 2.2 0 1 0 -4.4 0ZM147.83 343.68a2.2 2.2 0 1 0 4.4 0a2.2 2.2 0 1 0 -4.4 0ZM148.36 344.46a2.2 2.2 0 1 0 4.4 0a2.2 2.2 0 1 0 -4.4 0ZM148.88 344.81a2.2 2.2 0 1 0 4.4 0a2.2 2.2 0 1 0 -4.4 0ZM149.39 345.25a2.2 2.2 0 1 0 4.4 0a2.2 2.2 0 1 0 -4.4 0ZM149.9 345.12a2.2 2.2 0 1 0 4.4 0a2.2 2.2 0 1 0 -4.4 0ZM150.39 346.11a2.2 2.2 0 1 0 4.4 0a2.2 2.2 0 1 0 -4.4 0ZM150.88 345.71a2.2 2.2 0 1 0 4.4 0a2.2 2.2 0 1 0 -4.4 0ZM151.37 346.56a2.2 2.2 0 1 0 4.4 0a2.2 2.2 0 1 0 -4.4 0ZM151.84 345.64a2.2 2.2 0 1 0 4.4 0a2.2 2.2 0 1 0 -4.4 0ZM152.31 346.85a2.2 2.2 0 1 0 4.4 0a2.2 2.2 0 1 0 -4.4 0ZM152.78 346.13a2.2 2.2 0 1 0 4.4 0a2.2 2.2 0 1 0 -4.4 0ZM153.23 346.23a2.2 2.2 0 1 0 4.4 0a2.2 2.2 0 1 0 -4.4 0ZM153.68 347.28a2.2 2.2 0 1 0 4.4 0a2.2 2.2 0 1 0 -4.4 0ZM154.13 346.8a2.2 2.2 0 1 0 4.4 0a2.2 2.2 0 1 0 -4.4 0ZM154.57 347.46a2.2 2.2 0 1 0 4.4 0a2.2 2.2 0 1 0 -4.4 0ZM155 346.81a2.2 2.2 0 1 0 4.4 0a2.2 2.2 0 1 0 -4.4 0ZM155.43 348.01a2.2 2.2 0 1 0 4.4 0a2.2 2.2 0 1 0 -4.4 0ZM155.85 347.31a2.2 2.2 0 1 0 4.4 0a2.2 2.2 0 1 0 -4.4 0ZM156.27 346.86a2.2 2.2 0 1 0 4.4 0a2.2 2.2 0 1 0 -4.4 0ZM156.69 347.56a2.2 2.2 0 1 0 4.4 0a2.2 2.2 0 1 0 -4.4 0ZM157.09 348.05a2.2 2.2 0 1 0 4.4 0a2.2 2.2 0 1 0 -4.4 0ZM157.5 347.52a2.2 2.2 0 1 0 4.4 0a2.2 2.2 0 1 0 -4.4 0ZM157.89 348.34a2.2 2.2 0 1 0 4.4 0a2.2 2.2 0 1 0 -4.4 0ZM158.29 349.28a2.2 2.2 0 1 0 4.4 0a2.2 2.2 0 1 0 -4.4 0ZM158.68 349.01a2.2 2.2 0 1 0 4.4 0a2.2 2.2 0 1 0 -4.4 0ZM159.06 348.89a2.2 2.2 0 1 0 4.4 0a2.2 2.2 0 1 0 -4.4 0ZM159.44 348.9a2.2 2.2 0 1 0 4.4 0a2.2 2.2 0 1 0 -4.4 0ZM159.82 349.62a2.2 2.2 0 1 0 4.4 0a2.2 2.2 0 1 0 -4.4 0ZM160.19 348.82a2.2 2.2 0 1 0 4.4 0a2.2 2.2 0 1 0 -4.4 0ZM160.56 348.25a2.2 2.2 0 1 0 4.4 0a2.2 2.2 0 1 0 -4.4 0ZM160.92 349.44a2.2 2.2 0 1 0 4.4 0a2.2 2.2 0 1 0 -4.4 0ZM161.28 349.39a2.2 2.2 0 1 0 4.4 0a2.2 2.2 0 1 0 -4.4 0ZM161.64 350.82a2.2 2.2 0 1 0 4.4 0a2.2 2.2 0 1 0 -4.4 0ZM161.99 350.27a2.2 2.2 0 1 0 4.4 0a2.2 2.2 0 1 0 -4.4 0ZM162.34 349.94a2.2 2.2 0 1 0 4.4 0a2.2 2.2 0 1 0 -4.4 0ZM162.69 350.04a2.2 2.2 0 1 0 4.4 0a2.2 2.2 0 1 0 -4.4 0ZM163.03 350.94a2.2 2.2 0 1 0 4.4 0a2.2 2.2 0 1 0 -4.4 0ZM163.37 350.48a2.2 2.2 0 1 0 4.4 0a2.2 2.2 0 1 0 -4.4 0ZM163.71 350.7a2.2 2.2 0 1 0 4.4 0a2.2 2.2 0 1 0 -4.4 0ZM164.04 351a2.2 2.2 0 1 0 4.4 0a2.2 2.2 0 1 0 -4.4 0ZM164.37 351.12a2.2 2.2 0 1 0 4.4 0a2.2 2.2 0 1 0 -4.4 0ZM164.69 351.14a2.2 2.2 0 1 0 4.4 0a2.2 2.2 0 1 0 -4.4 0ZM165.02 351.17a2.2 2.2 0 1 0 4.4 0a2.2 2.2 0 1 0 -4.4 0ZM165.34 351.75a2.2 2.2 0 1 0 4.4 0a2.2 2.2 0 1 0 -4.4 0ZM165.65 352a2.2 2.2 0 1 0 4.4 0a2.2 2.2 0 1 0 -4.4 0ZM165.97 350.58a2.2 2.2 0 1 0 4.4 0a2.2 2.2 0 1 0 -4.4 0ZM166.28 352.59a2.2 2.2 0 1 0 4.4 0a2.2 2.2 0 1 0 -4.4 0ZM166.59 351.65a2.2 2.2 0 1 0 4.4 0a2.2 2.2 0 1 0 -4.4 0ZM166.89 352.35a2.2 2.2 0 1 0 4.4 0a2.2 2.2 0 1 0 -4.4 0ZM167.19 351.68a2.2 2.2 0 1 0 4.4 0a2.2 2.2 0 1 0 -4.4 0ZM167.49 352.41a2.2 2.2 0 1 0 4.4 0a2.2 2.2 0 1 0 -4.4 0ZM167.79 352.58a2.2 2.2 0 1 0 4.4 0a2.2 2.2 0 1 0 -4.4 0ZM168.09 352.72a2.2 2.2 0 1 0 4.4 0a2.2 2.2 0 1 0 -4.4 0ZM168.38 353.2a2.2 2.2 0 1 0 4.4 0a2.2 2.2 0 1 0 -4.4 0ZM168.67 353.22a2.2 2.2 0 1 0 4.4 0a2.2 2.2 0 1 0 -4.4 0ZM168.96 352.59a2.2 2.2 0 1 0 4.4 0a2.2 2.2 0 1 0 -4.4 0ZM169.24 353.06a2.2 2.2 0 1 0 4.4 0a2.2 2.2 0 1 0 -4.4 0ZM169.52 353.5a2.2 2.2 0 1 0 4.4 0a2.2 2.2 0 1 0 -4.4 0ZM169.8 353.55a2.2 2.2 0 1 0 4.4 0a2.2 2.2 0 1 0 -4.4 0ZM170.08 353.17a2.2 2.2 0 1 0 4.4 0a2.2 2.2 0 1 0 -4.4 0ZM170.36 353.28a2.2 2.2 0 1 0 4.4 0a2.2 2.2 0 1 0 -4.4 0ZM170.63 353.41a2.2 2.2 0 1 0 4.4 0a2.2 2.2 0 1 0 -4.4 0ZM170.9 353.08a2.2 2.2 0 1 0 4.4 0a2.2 2.2 0 1 0 -4.4 0ZM171.17 353.14a2.2 2.2 0 1 0 4.4 0a2.2 2.2 0 1 0 -4.4 0ZM171.44 354.6a2.2 2.2 0 1 0 4.4 0a2.2 2.2 0 1 0 -4.4 0ZM171.7 353.94a2.2 2.2 0 1 0 4.4 0a2.2 2.2 0 1 0 -4.4 0ZM171.97 354.41a2.2 2.2 0 1 0 4.4 0a2.2 2.2 0 1 0 -4.4 0ZM172.23 354.25a2.2 2.2 0 1 0 4.4 0a2.2 2.2 0 1 0 -4.4 0ZM172.49 355.36a2.2 2.2 0 1 0 4.4 0a2.2 2.2 0 1 0 -4.4 0ZM172.74 355.7a2.2 2.2 0 1 0 4.4 0a2.2 2.2 0 1 0 -4.4 0ZM173 354.91a2.2 2.2 0 1 0 4.4 0a2.2 2.2 0 1 0 -4.4 0ZM173.25 355.3a2.2 2.2 0 1 0 4.4 0a2.2 2.2 0 1 0 -4.4 0ZM173.5 354.76a2.2 2.2 0 1 0 4.4 0a2.2 2.2 0 1 0 -4.4 0ZM173.75 355.94a2.2 2.2 0 1 0 4.4 0a2.2 2.2 0 1 0 -4.4 0ZM174 355.68a2.2 2.2 0 1 0 4.4 0a2.2 2.2 0 1 0 -4.4 0ZM174.25 355.07a2.2 2.2 0 1 0 4.4 0a2.2 2.2 0 1 0 -4.4 0ZM174.49 356.24a2.2 2.2 0 1 0 4.4 0a2.2 2.2 0 1 0 -4.4 0ZM174.73 356.08a2.2 2.2 0 1 0 4.4 0a2.2 2.2 0 1 0 -4.4 0ZM174.97 356.31a2.2 2.2 0 1 0 4.4 0a2.2 2.2 0 1 0 -4.4 0ZM175.21 356.43a2.2 2.2 0 1 0 4.4 0a2.2 2.2 0 1 0 -4.4 0ZM175.45 356.02a2.2 2.2 0 1 0 4.4 0a2.2 2.2 0 1 0 -4.4 0ZM175.69 356.06a2.2 2.2 0 1 0 4.4 0a2.2 2.2 0 1 0 -4.4 0ZM175.92 356.5a2.2 2.2 0 1 0 4.4 0a2.2 2.2 0 1 0 -4.4 0ZM176.15 356.08a2.2 2.2 0 1 0 4.4 0a2.2 2.2 0 1 0 -4.4 0ZM176.38 355.55a2.2 2.2 0 1 0 4.4 0a2.2 2.2 0 1 0 -4.4 0ZM176.61 356.78a2.2 2.2 0 1 0 4.4 0a2.2 2.2 0 1 0 -4.4 0ZM176.84 355.72a2.2 2.2 0 1 0 4.4 0a2.2 2.2 0 1 0 -4.4 0ZM177.07 355.57a2.2 2.2 0 1 0 4.4 0a2.2 2.2 0 1 0 -4.4 0ZM177.29 355.53a2.2 2.2 0 1 0 4.4 0a2.2 2.2 0 1 0 -4.4 0ZM177.51 356.21a2.2 2.2 0 1 0 4.4 0a2.2 2.2 0 1 0 -4.4 0ZM177.74 356.38a2.2 2.2 0 1 0 4.4 0a2.2 2.2 0 1 0 -4.4 0ZM177.96 356.07a2.2 2.2 0 1 0 4.4 0a2.2 2.2 0 1 0 -4.4 0ZM178.18 356.35a2.2 2.2 0 1 0 4.4 0a2.2 2.2 0 1 0 -4.4 0ZM178.39 355.28a2.2 2.2 0 1 0 4.4 0a2.2 2.2 0 1 0 -4.4 0ZM178.61 355.83a2.2 2.2 0 1 0 4.4 0a2.2 2.2 0 1 0 -4.4 0ZM178.82 355.89a2.2 2.2 0 1 0 4.4 0a2.2 2.2 0 1 0 -4.4 0ZM179.04 356.27a2.2 2.2 0 1 0 4.4 0a2.2 2.2 0 1 0 -4.4 0ZM179.25 356.72a2.2 2.2 0 1 0 4.4 0a2.2 2.2 0 1 0 -4.4 0ZM179.46 355.84a2.2 2.2 0 1 0 4.4 0a2.2 2.2 0 1 0 -4.4 0ZM179.67 358.42a2.2 2.2 0 1 0 4.4 0a2.2 2.2 0 1 0 -4.4 0ZM179.88 356.86a2.2 2.2 0 1 0 4.4 0a2.2 2.2 0 1 0 -4.4 0ZM180.09 357.62a2.2 2.2 0 1 0 4.4 0a2.2 2.2 0 1 0 -4.4 0ZM180.29 357.99a2.2 2.2 0 1 0 4.4 0a2.2 2.2 0 1 0 -4.4 0ZM180.5 358.12a2.2 2.2 0 1 0 4.4 0a2.2 2.2 0 1 0 -4.4 0ZM180.7 357.93a2.2 2.2 0 1 0 4.4 0a2.2 2.2 0 1 0 -4.4 0ZM180.9 356.59a2.2 2.2 0 1 0 4.4 0a2.2 2.2 0 1 0 -4.4 0ZM181.1 357.48a2.2 2.2 0 1 0 4.4 0a2.2 2.2 0 1 0 -4.4 0ZM181.3 358.36a2.2 2.2 0 1 0 4.4 0a2.2 2.2 0 1 0 -4.4 0ZM181.5 357.62a2.2 2.2 0 1 0 4.4 0a2.2 2.2 0 1 0 -4.4 0ZM181.7 357.53a2.2 2.2 0 1 0 4.4 0a2.2 2.2 0 1 0 -4.4 0ZM181.89 356.9a2.2 2.2 0 1 0 4.4 0a2.2 2.2 0 1 0 -4.4 0ZM182.09 358.49a2.2 2.2 0 1 0 4.4 0a2.2 2.2 0 1 0 -4.4 0ZM182.28 358.2a2.2 2.2 0 1 0 4.4 0a2.2 2.2 0 1 0 -4.4 0ZM182.48 357.65a2.2 2.2 0 1 0 4.4 0a2.2 2.2 0 1 0 -4.4 0ZM182.67 358.09a2.2 2.2 0 1 0 4.4 0a2.2 2.2 0 1 0 -4.4 0ZM182.86 358.24a2.2 2.2 0 1 0 4.4 0a2.2 2.2 0 1 0 -4.4 0ZM183.05 357.91a2.2 2.2 0 1 0 4.4 0a2.2 2.2 0 1 0 -4.4 0ZM183.24 358.39a2.2 2.2 0 1 0 4.4 0a2.2 2.2 0 1 0 -4.4 0ZM183.43 358.71a2.2 2.2 0 1 0 4.4 0a2.2 2.2 0 1 0 -4.4 0ZM183.61 358.92a2.2 2.2 0 1 0 4.4 0a2.2 2.2 0 1 0 -4.4 0ZM183.8 359.31a2.2 2.2 0 1 0 4.4 0a2.2 2.2 0 1 0 -4.4 0ZM183.98 358.79a2.2 2.2 0 1 0 4.4 0a2.2 2.2 0 1 0 -4.4 0ZM184.17 358.61a2.2 2.2 0 1 0 4.4 0a2.2 2.2 0 1 0 -4.4 0ZM184.35 359.02a2.2 2.2 0 1 0 4.4 0a2.2 2.2 0 1 0 -4.4 0ZM184.53 358.55a2.2 2.2 0 1 0 4.4 0a2.2 2.2 0 1 0 -4.4 0ZM184.71 358.2a2.2 2.2 0 1 0 4.4 0a2.2 2.2 0 1 0 -4.4 0ZM184.89 359.14a2.2 2.2 0 1 0 4.4 0a2.2 2.2 0 1 0 -4.4 0ZM185.07 358.28a2.2 2.2 0 1 0 4.4 0a2.2 2.2 0 1 0 -4.4 0ZM185.25 358.31a2.2 2.2 0 1 0 4.4 0a2.2 2.2 0 1 0 -4.4 0ZM185.42 358.38a2.2 2.2 0 1 0 4.4 0a2.2 2.2 0 1 0 -4.4 0ZM185.6 357.51a2.2 2.2 0 1 0 4.4 0a2.2 2.2 0 1 0 -4.4 0ZM185.77 358.36a2.2 2.2 0 1 0 4.4 0a2.2 2.2 0 1 0 -4.4 0ZM185.95 358.45a2.2 2.2 0 1 0 4.4 0a2.2 2.2 0 1 0 -4.4 0ZM186.12 358.46a2.2 2.2 0 1 0 4.4 0a2.2 2.2 0 1 0 -4.4 0ZM186.29 359a2.2 2.2 0 1 0 4.4 0a2.2 2.2 0 1 0 -4.4 0ZM186.47 358.83a2.2 2.2 0 1 0 4.4 0a2.2 2.2 0 1 0 -4.4 0ZM186.64 358.52a2.2 2.2 0 1 0 4.4 0a2.2 2.2 0 1 0 -4.4 0ZM186.81 359.64a2.2 2.2 0 1 0 4.4 0a2.2 2.2 0 1 0 -4.4 0ZM186.98 359.51a2.2 2.2 0 1 0 4.4 0a2.2 2.2 0 1 0 -4.4 0ZM187.14 360.35a2.2 2.2 0 1 0 4.4 0a2.2 2.2 0 1 0 -4.4 0ZM187.31 360.02a2.2 2.2 0 1 0 4.4 0a2.2 2.2 0 1 0 -4.4 0ZM187.48 359.57a2.2 2.2 0 1 0 4.4 0a2.2 2.2 0 1 0 -4.4 0ZM187.64 359.71a2.2 2.2 0 1 0 4.4 0a2.2 2.2 0 1 0 -4.4 0ZM187.81 360.22a2.2 2.2 0 1 0 4.4 0a2.2 2.2 0 1 0 -4.4 0ZM187.97 360.09a2.2 2.2 0 1 0 4.4 0a2.2 2.2 0 1 0 -4.4 0ZM188.14 359.78a2.2 2.2 0 1 0 4.4 0a2.2 2.2 0 1 0 -4.4 0ZM188.3 359.92a2.2 2.2 0 1 0 4.4 0a2.2 2.2 0 1 0 -4.4 0ZM188.46 359.74a2.2 2.2 0 1 0 4.4 0a2.2 2.2 0 1 0 -4.4 0ZM188.62 359.92a2.2 2.2 0 1 0 4.4 0a2.2 2.2 0 1 0 -4.4 0ZM188.78 360.3a2.2 2.2 0 1 0 4.4 0a2.2 2.2 0 1 0 -4.4 0ZM188.94 359.98a2.2 2.2 0 1 0 4.4 0a2.2 2.2 0 1 0 -4.4 0ZM189.1 360.16a2.2 2.2 0 1 0 4.4 0a2.2 2.2 0 1 0 -4.4 0ZM189.26 359.52a2.2 2.2 0 1 0 4.4 0a2.2 2.2 0 1 0 -4.4 0ZM189.41 359.28a2.2 2.2 0 1 0 4.4 0a2.2 2.2 0 1 0 -4.4 0ZM189.57 359.28a2.2 2.2 0 1 0 4.4 0a2.2 2.2 0 1 0 -4.4 0ZM189.73 359.89a2.2 2.2 0 1 0 4.4 0a2.2 2.2 0 1 0 -4.4 0ZM189.88 360.73a2.2 2.2 0 1 0 4.4 0a2.2 2.2 0 1 0 -4.4 0ZM190.04 360.68a2.2 2.2 0 1 0 4.4 0a2.2 2.2 0 1 0 -4.4 0ZM190.19 359.64a2.2 2.2 0 1 0 4.4 0a2.2 2.2 0 1 0 -4.4 0ZM190.34 359.26a2.2 2.2 0 1 0 4.4 0a2.2 2.2 0 1 0 -4.4 0ZM190.5 360.15a2.2 2.2 0 1 0 4.4 0a2.2 2.2 0 1 0 -4.4 0ZM190.65 359.89a2.2 2.2 0 1 0 4.4 0a2.2 2.2 0 1 0 -4.4 0ZM190.8 359.02a2.2 2.2 0 1 0 4.4 0a2.2 2.2 0 1 0 -4.4 0ZM190.95 360.16a2.2 2.2 0 1 0 4.4 0a2.2 2.2 0 1 0 -4.4 0ZM191.1 359.89a2.2 2.2 0 1 0 4.4 0a2.2 2.2 0 1 0 -4.4 0ZM191.25 360.59a2.2 2.2 0 1 0 4.4 0a2.2 2.2 0 1 0 -4.4 0ZM191.4 360.35a2.2 2.2 0 1 0 4.4 0a2.2 2.2 0 1 0 -4.4 0ZM191.54 360.81a2.2 2.2 0 1 0 4.4 0a2.2 2.2 0 1 0 -4.4 0ZM191.69 360.76a2.2 2.2 0 1 0 4.4 0a2.2 2.2 0 1 0 -4.4 0ZM191.84 360.38a2.2 2.2 0 1 0 4.4 0a2.2 2.2 0 1 0 -4.4 0ZM191.98 360.86a2.2 2.2 0 1 0 4.4 0a2.2 2.2 0 1 0 -4.4 0ZM192.13 360.79a2.2 2.2 0 1 0 4.4 0a2.2 2.2 0 1 0 -4.4 0ZM192.27 361.59a2.2 2.2 0 1 0 4.4 0a2.2 2.2 0 1 0 -4.4 0ZM192.42 360.88a2.2 2.2 0 1 0 4.4 0a2.2 2.2 0 1 0 -4.4 0ZM192.56 360.72a2.2 2.2 0 1 0 4.4 0a2.2 2.2 0 1 0 -4.4 0ZM192.7 361.77a2.2 2.2 0 1 0 4.4 0a2.2 2.2 0 1 0 -4.4 0ZM192.85 362.01a2.2 2.2 0 1 0 4.4 0a2.2 2.2 0 1 0 -4.4 0ZM192.99 362.19a2.2 2.2 0 1 0 4.4 0a2.2 2.2 0 1 0 -4.4 0ZM193.13 362.07a2.2 2.2 0 1 0 4.4 0a2.2 2.2 0 1 0 -4.4 0ZM193.27 360.91a2.2 2.2 0 1 0 4.4 0a2.2 2.2 0 1 0 -4.4 0ZM193.41 361.27a2.2 2.2 0 1 0 4.4 0a2.2 2.2 0 1 0 -4.4 0ZM193.55 361.32a2.2 2.2 0 1 0 4.4 0a2.2 2.2 0 1 0 -4.4 0ZM193.69 361.52a2.2 2.2 0 1 0 4.4 0a2.2 2.2 0 1 0 -4.4 0ZM193.82 360.5a2.2 2.2 0 1 0 4.4 0a2.2 2.2 0 1 0 -4.4 0ZM193.96 361.4a2.2 2.2 0 1 0 4.4 0a2.2 2.2 0 1 0 -4.4 0ZM194.1 361.46a2.2 2.2 0 1 0 4.4 0a2.2 2.2 0 1 0 -4.4 0ZM194.24 360.87a2.2 2.2 0 1 0 4.4 0a2.2 2.2 0 1 0 -4.4 0ZM194.37 361.33a2.2 2.2 0 1 0 4.4 0a2.2 2.2 0 1 0 -4.4 0ZM194.51 361.82a2.2 2.2 0 1 0 4.4 0a2.2 2.2 0 1 0 -4.4 0ZM194.64 361.35a2.2 2.2 0 1 0 4.4 0a2.2 2.2 0 1 0 -4.4 0ZM194.78 361.83a2.2 2.2 0 1 0 4.4 0a2.2 2.2 0 1 0 -4.4 0ZM194.91 361.81a2.2 2.2 0 1 0 4.4 0a2.2 2.2 0 1 0 -4.4 0ZM195.04 361.5a2.2 2.2 0 1 0 4.4 0a2.2 2.2 0 1 0 -4.4 0ZM195.18 361.46a2.2 2.2 0 1 0 4.4 0a2.2 2.2 0 1 0 -4.4 0ZM195.31 361.12a2.2 2.2 0 1 0 4.4 0a2.2 2.2 0 1 0 -4.4 0ZM195.44 361.87a2.2 2.2 0 1 0 4.4 0a2.2 2.2 0 1 0 -4.4 0ZM195.57 361.15a2.2 2.2 0 1 0 4.4 0a2.2 2.2 0 1 0 -4.4 0ZM195.7 361.12a2.2 2.2 0 1 0 4.4 0a2.2 2.2 0 1 0 -4.4 0ZM195.83 361.84a2.2 2.2 0 1 0 4.4 0a2.2 2.2 0 1 0 -4.4 0ZM195.96 361.28a2.2 2.2 0 1 0 4.4 0a2.2 2.2 0 1 0 -4.4 0ZM196.09 361.88a2.2 2.2 0 1 0 4.4 0a2.2 2.2 0 1 0 -4.4 0ZM196.22 362.25a2.2 2.2 0 1 0 4.4 0a2.2 2.2 0 1 0 -4.4 0ZM196.35 361.9a2.2 2.2 0 1 0 4.4 0a2.2 2.2 0 1 0 -4.4 0ZM196.48 361.98a2.2 2.2 0 1 0 4.4 0a2.2 2.2 0 1 0 -4.4 0ZM196.6 362.41a2.2 2.2 0 1 0 4.4 0a2.2 2.2 0 1 0 -4.4 0ZM196.73 362.42a2.2 2.2 0 1 0 4.4 0a2.2 2.2 0 1 0 -4.4 0ZM196.86 361.47a2.2 2.2 0 1 0 4.4 0a2.2 2.2 0 1 0 -4.4 0ZM196.98 361.67a2.2 2.2 0 1 0 4.4 0a2.2 2.2 0 1 0 -4.4 0ZM197.11 362.94a2.2 2.2 0 1 0 4.4 0a2.2 2.2 0 1 0 -4.4 0ZM197.23 362.58a2.2 2.2 0 1 0 4.4 0a2.2 2.2 0 1 0 -4.4 0ZM197.36 361.5a2.2 2.2 0 1 0 4.4 0a2.2 2.2 0 1 0 -4.4 0ZM197.48 361.82a2.2 2.2 0 1 0 4.4 0a2.2 2.2 0 1 0 -4.4 0ZM197.6 362.4a2.2 2.2 0 1 0 4.4 0a2.2 2.2 0 1 0 -4.4 0ZM197.73 361.9a2.2 2.2 0 1 0 4.4 0a2.2 2.2 0 1 0 -4.4 0ZM197.85 362.49a2.2 2.2 0 1 0 4.4 0a2.2 2.2 0 1 0 -4.4 0ZM197.97 362.25a2.2 2.2 0 1 0 4.4 0a2.2 2.2 0 1 0 -4.4 0ZM198.09 362.39a2.2 2.2 0 1 0 4.4 0a2.2 2.2 0 1 0 -4.4 0ZM198.22 361.64a2.2 2.2 0 1 0 4.4 0a2.2 2.2 0 1 0 -4.4 0ZM198.34 362.48a2.2 2.2 0 1 0 4.4 0a2.2 2.2 0 1 0 -4.4 0ZM198.46 363.18a2.2 2.2 0 1 0 4.4 0a2.2 2.2 0 1 0 -4.4 0ZM198.58 362.08a2.2 2.2 0 1 0 4.4 0a2.2 2.2 0 1 0 -4.4 0ZM198.7 363.13a2.2 2.2 0 1 0 4.4 0a2.2 2.2 0 1 0 -4.4 0ZM198.82 363.03a2.2 2.2 0 1 0 4.4 0a2.2 2.2 0 1 0 -4.4 0ZM198.94 362.89a2.2 2.2 0 1 0 4.4 0a2.2 2.2 0 1 0 -4.4 0ZM199.05 362.57a2.2 2.2 0 1 0 4.4 0a2.2 2.2 0 1 0 -4.4 0ZM199.17 362.07a2.2 2.2 0 1 0 4.4 0a2.2 2.2 0 1 0 -4.4 0ZM199.29 362.19a2.2 2.2 0 1 0 4.4 0a2.2 2.2 0 1 0 -4.4 0ZM199.41 362.9a2.2 2.2 0 1 0 4.4 0a2.2 2.2 0 1 0 -4.4 0ZM199.52 362.96a2.2 2.2 0 1 0 4.4 0a2.2 2.2 0 1 0 -4.4 0ZM199.64 363.01a2.2 2.2 0 1 0 4.4 0a2.2 2.2 0 1 0 -4.4 0ZM199.76 362.81a2.2 2.2 0 1 0 4.4 0a2.2 2.2 0 1 0 -4.4 0ZM199.87 362.69a2.2 2.2 0 1 0 4.4 0a2.2 2.2 0 1 0 -4.4 0ZM199.99 362a2.2 2.2 0 1 0 4.4 0a2.2 2.2 0 1 0 -4.4 0ZM200.1 361.58a2.2 2.2 0 1 0 4.4 0a2.2 2.2 0 1 0 -4.4 0ZM200.22 362.24a2.2 2.2 0 1 0 4.4 0a2.2 2.2 0 1 0 -4.4 0ZM200.33 362.51a2.2 2.2 0 1 0 4.4 0a2.2 2.2 0 1 0 -4.4 0ZM200.44 362.58a2.2 2.2 0 1 0 4.4 0a2.2 2.2 0 1 0 -4.4 0ZM200.56 362.15a2.2 2.2 0 1 0 4.4 0a2.2 2.2 0 1 0 -4.4 0ZM200.67 362.84a2.2 2.2 0 1 0 4.4 0a2.2 2.2 0 1 0 -4.4 0ZM200.78 362.56a2.2 2.2 0 1 0 4.4 0a2.2 2.2 0 1 0 -4.4 0ZM200.89 363.35a2.2 2.2 0 1 0 4.4 0a2.2 2.2 0 1 0 -4.4 0ZM201.01 362.79a2.2 2.2 0 1 0 4.4 0a2.2 2.2 0 1 0 -4.4 0ZM201.12 363.11a2.2 2.2 0 1 0 4.4 0a2.2 2.2 0 1 0 -4.4 0ZM201.23 363.24a2.2 2.2 0 1 0 4.4 0a2.2 2.2 0 1 0 -4.4 0ZM201.34 363.06a2.2 2.2 0 1 0 4.4 0a2.2 2.2 0 1 0 -4.4 0ZM201.45 363.52a2.2 2.2 0 1 0 4.4 0a2.2 2.2 0 1 0 -4.4 0ZM201.56 362.37a2.2 2.2 0 1 0 4.4 0a2.2 2.2 0 1 0 -4.4 0ZM201.67 361.89a2.2 2.2 0 1 0 4.4 0a2.2 2.2 0 1 0 -4.4 0ZM201.78 363.33a2.2 2.2 0 1 0 4.4 0a2.2 2.2 0 1 0 -4.4 0ZM201.89 363.58a2.2 2.2 0 1 0 4.4 0a2.2 2.2 0 1 0 -4.4 0ZM202 363.65a2.2 2.2 0 1 0 4.4 0a2.2 2.2 0 1 0 -4.4 0ZM202.1 363.19a2.2 2.2 0 1 0 4.4 0a2.2 2.2 0 1 0 -4.4 0ZM202.21 363.4a2.2 2.2 0 1 0 4.4 0a2.2 2.2 0 1 0 -4.4 0ZM202.32 363.36a2.2 2.2 0 1 0 4.4 0a2.2 2.2 0 1 0 -4.4 0ZM202.43 362.92a2.2 2.2 0 1 0 4.4 0a2.2 2.2 0 1 0 -4.4 0ZM202.53 363.44a2.2 2.2 0 1 0 4.4 0a2.2 2.2 0 1 0 -4.4 0ZM202.64 364.08a2.2 2.2 0 1 0 4.4 0a2.2 2.2 0 1 0 -4.4 0ZM202.75 363.68a2.2 2.2 0 1 0 4.4 0a2.2 2.2 0 1 0 -4.4 0ZM202.85 364.77a2.2 2.2 0 1 0 4.4 0a2.2 2.2 0 1 0 -4.4 0ZM202.96 363.1a2.2 2.2 0 1 0 4.4 0a2.2 2.2 0 1 0 -4.4 0ZM203.06 363.41a2.2 2.2 0 1 0 4.4 0a2.2 2.2 0 1 0 -4.4 0ZM203.17 363.88a2.2 2.2 0 1 0 4.4 0a2.2 2.2 0 1 0 -4.4 0ZM203.27 362.92a2.2 2.2 0 1 0 4.4 0a2.2 2.2 0 1 0 -4.4 0ZM203.38 362.55a2.2 2.2 0 1 0 4.4 0a2.2 2.2 0 1 0 -4.4 0ZM203.48 362.39a2.2 2.2 0 1 0 4.4 0a2.2 2.2 0 1 0 -4.4 0ZM203.59 362.71a2.2 2.2 0 1 0 4.4 0a2.2 2.2 0 1 0 -4.4 0ZM203.69 363.78a2.2 2.2 0 1 0 4.4 0a2.2 2.2 0 1 0 -4.4 0ZM203.79 363.33a2.2 2.2 0 1 0 4.4 0a2.2 2.2 0 1 0 -4.4 0ZM203.89 363.35a2.2 2.2 0 1 0 4.4 0a2.2 2.2 0 1 0 -4.4 0ZM204 362.79a2.2 2.2 0 1 0 4.4 0a2.2 2.2 0 1 0 -4.4 0ZM204.1 363.27a2.2 2.2 0 1 0 4.4 0a2.2 2.2 0 1 0 -4.4 0ZM204.2 362.8a2.2 2.2 0 1 0 4.4 0a2.2 2.2 0 1 0 -4.4 0ZM204.3 362.23a2.2 2.2 0 1 0 4.4 0a2.2 2.2 0 1 0 -4.4 0ZM204.4 362.39a2.2 2.2 0 1 0 4.4 0a2.2 2.2 0 1 0 -4.4 0ZM204.5 362.71a2.2 2.2 0 1 0 4.4 0a2.2 2.2 0 1 0 -4.4 0ZM204.61 363.2a2.2 2.2 0 1 0 4.4 0a2.2 2.2 0 1 0 -4.4 0ZM204.71 362.72a2.2 2.2 0 1 0 4.4 0a2.2 2.2 0 1 0 -4.4 0ZM204.81 363.03a2.2 2.2 0 1 0 4.4 0a2.2 2.2 0 1 0 -4.4 0ZM204.91 363.78a2.2 2.2 0 1 0 4.4 0a2.2 2.2 0 1 0 -4.4 0ZM205 362.59a2.2 2.2 0 1 0 4.4 0a2.2 2.2 0 1 0 -4.4 0ZM205.1 362.51a2.2 2.2 0 1 0 4.4 0a2.2 2.2 0 1 0 -4.4 0ZM205.2 363.69a2.2 2.2 0 1 0 4.4 0a2.2 2.2 0 1 0 -4.4 0ZM205.3 363.66a2.2 2.2 0 1 0 4.4 0a2.2 2.2 0 1 0 -4.4 0ZM205.4 363.61a2.2 2.2 0 1 0 4.4 0a2.2 2.2 0 1 0 -4.4 0ZM205.5 363.88a2.2 2.2 0 1 0 4.4 0a2.2 2.2 0 1 0 -4.4 0ZM205.6 363.66a2.2 2.2 0 1 0 4.4 0a2.2 2.2 0 1 0 -4.4 0ZM205.69 364.05a2.2 2.2 0 1 0 4.4 0a2.2 2.2 0 1 0 -4.4 0ZM205.79 363.65a2.2 2.2 0 1 0 4.4 0a2.2 2.2 0 1 0 -4.4 0ZM205.89 364.09a2.2 2.2 0 1 0 4.4 0a2.2 2.2 0 1 0 -4.4 0ZM205.98 363.11a2.2 2.2 0 1 0 4.4 0a2.2 2.2 0 1 0 -4.4 0ZM206.08 363.15a2.2 2.2 0 1 0 4.4 0a2.2 2.2 0 1 0 -4.4 0ZM206.18 363.47a2.2 2.2 0 1 0 4.4 0a2.2 2.2 0 1 0 -4.4 0ZM206.27 363.13a2.2 2.2 0 1 0 4.4 0a2.2 2.2 0 1 0 -4.4 0ZM206.37 363.61a2.2 2.2 0 1 0 4.4 0a2.2 2.2 0 1 0 -4.4 0ZM206.46 363.25a2.2 2.2 0 1 0 4.4 0a2.2 2.2 0 1 0 -4.4 0ZM206.56 362.99a2.2 2.2 0 1 0 4.4 0a2.2 2.2 0 1 0 -4.4 0ZM206.65 363.29a2.2 2.2 0 1 0 4.4 0a2.2 2.2 0 1 0 -4.4 0ZM206.75 362.92a2.2 2.2 0 1 0 4.4 0a2.2 2.2 0 1 0 -4.4 0ZM206.84 362.45a2.2 2.2 0 1 0 4.4 0a2.2 2.2 0 1 0 -4.4 0ZM206.93 362.65a2.2 2.2 0 1 0 4.4 0a2.2 2.2 0 1 0 -4.4 0ZM207.03 362.79a2.2 2.2 0 1 0 4.4 0a2.2 2.2 0 1 0 -4.4 0ZM207.12 362.93a2.2 2.2 0 1 0 4.4 0a2.2 2.2 0 1 0 -4.4 0ZM207.21 363.2a2.2 2.2 0 1 0 4.4 0a2.2 2.2 0 1 0 -4.4 0ZM207.31 363.65a2.2 2.2 0 1 0 4.4 0a2.2 2.2 0 1 0 -4.4 0ZM207.4 363.62a2.2 2.2 0 1 0 4.4 0a2.2 2.2 0 1 0 -4.4 0ZM207.49 364.35a2.2 2.2 0 1 0 4.4 0a2.2 2.2 0 1 0 -4.4 0ZM207.58 364.32a2.2 2.2 0 1 0 4.4 0a2.2 2.2 0 1 0 -4.4 0ZM207.68 363.88a2.2 2.2 0 1 0 4.4 0a2.2 2.2 0 1 0 -4.4 0ZM207.77 364.94a2.2 2.2 0 1 0 4.4 0a2.2 2.2 0 1 0 -4.4 0ZM207.86 364.97a2.2 2.2 0 1 0 4.4 0a2.2 2.2 0 1 0 -4.4 0ZM207.95 364.47a2.2 2.2 0 1 0 4.4 0a2.2 2.2 0 1 0 -4.4 0ZM208.04 365.03a2.2 2.2 0 1 0 4.4 0a2.2 2.2 0 1 0 -4.4 0ZM208.13 365.55a2.2 2.2 0 1 0 4.4 0a2.2 2.2 0 1 0 -4.4 0ZM208.22 365.29a2.2 2.2 0 1 0 4.4 0a2.2 2.2 0 1 0 -4.4 0ZM208.31 365.72a2.2 2.2 0 1 0 4.4 0a2.2 2.2 0 1 0 -4.4 0ZM208.4 365.5a2.2 2.2 0 1 0 4.4 0a2.2 2.2 0 1 0 -4.4 0ZM208.49 365.67a2.2 2.2 0 1 0 4.4 0a2.2 2.2 0 1 0 -4.4 0ZM208.58 365.26a2.2 2.2 0 1 0 4.4 0a2.2 2.2 0 1 0 -4.4 0ZM208.67 365.64a2.2 2.2 0 1 0 4.4 0a2.2 2.2 0 1 0 -4.4 0ZM208.76 365.4a2.2 2.2 0 1 0 4.4 0a2.2 2.2 0 1 0 -4.4 0ZM208.85 365.98a2.2 2.2 0 1 0 4.4 0a2.2 2.2 0 1 0 -4.4 0ZM208.94 365a2.2 2.2 0 1 0 4.4 0a2.2 2.2 0 1 0 -4.4 0ZM209.03 365.94a2.2 2.2 0 1 0 4.4 0a2.2 2.2 0 1 0 -4.4 0ZM209.11 366.3a2.2 2.2 0 1 0 4.4 0a2.2 2.2 0 1 0 -4.4 0ZM209.2 365.87a2.2 2.2 0 1 0 4.4 0a2.2 2.2 0 1 0 -4.4 0ZM209.29 365.4a2.2 2.2 0 1 0 4.4 0a2.2 2.2 0 1 0 -4.4 0ZM209.38 365.4a2.2 2.2 0 1 0 4.4 0a2.2 2.2 0 1 0 -4.4 0ZM209.46 364.5a2.2 2.2 0 1 0 4.4 0a2.2 2.2 0 1 0 -4.4 0ZM209.55 364.25a2.2 2.2 0 1 0 4.4 0a2.2 2.2 0 1 0 -4.4 0ZM209.64 364.28a2.2 2.2 0 1 0 4.4 0a2.2 2.2 0 1 0 -4.4 0ZM209.72 364.29a2.2 2.2 0 1 0 4.4 0a2.2 2.2 0 1 0 -4.4 0ZM209.81 364.79a2.2 2.2 0 1 0 4.4 0a2.2 2.2 0 1 0 -4.4 0ZM209.9 363.98a2.2 2.2 0 1 0 4.4 0a2.2 2.2 0 1 0 -4.4 0ZM209.98 364.89a2.2 2.2 0 1 0 4.4 0a2.2 2.2 0 1 0 -4.4 0ZM210.07 363.77a2.2 2.2 0 1 0 4.4 0a2.2 2.2 0 1 0 -4.4 0ZM210.15 364.15a2.2 2.2 0 1 0 4.4 0a2.2 2.2 0 1 0 -4.4 0ZM210.24 364.52a2.2 2.2 0 1 0 4.4 0a2.2 2.2 0 1 0 -4.4 0ZM210.32 365.08a2.2 2.2 0 1 0 4.4 0a2.2 2.2 0 1 0 -4.4 0ZM210.41 364.31a2.2 2.2 0 1 0 4.4 0a2.2 2.2 0 1 0 -4.4 0ZM210.49 363.64a2.2 2.2 0 1 0 4.4 0a2.2 2.2 0 1 0 -4.4 0ZM210.58 364.8a2.2 2.2 0 1 0 4.4 0a2.2 2.2 0 1 0 -4.4 0ZM210.66 364.6a2.2 2.2 0 1 0 4.4 0a2.2 2.2 0 1 0 -4.4 0ZM210.75 364.12a2.2 2.2 0 1 0 4.4 0a2.2 2.2 0 1 0 -4.4 0ZM210.83 364.1a2.2 2.2 0 1 0 4.4 0a2.2 2.2 0 1 0 -4.4 0ZM210.91 364.18a2.2 2.2 0 1 0 4.4 0a2.2 2.2 0 1 0 -4.4 0ZM211 364.43a2.2 2.2 0 1 0 4.4 0a2.2 2.2 0 1 0 -4.4 0ZM211.08 364.61a2.2 2.2 0 1 0 4.4 0a2.2 2.2 0 1 0 -4.4 0Z"/>
<rect x="40.55" y="239.57" width="184.42" height="193.73" fill="none" stroke="#333" stroke-width="1.5"/>
<path d="M136 250H152.1" stroke="#9198a2" stroke-width="1.2"/>
<path fill="#9198a2" d="M142.3 248.3h3.4v3.4h-3.4Z"/>
<path d="M136 260.4H152.1" stroke="#a65d08" stroke-width="1.2"/>
<path fill="#a65d08" d="M141.9 262.11L146.1 262.11L144 258.31Z"/>
<path d="M136 270.5H152.1" stroke="#3366b5" stroke-width="1.2"/>
<path fill="#3366b5" d="M142.2 270.5a1.8 1.8 0 1 0 3.6 0a1.8 1.8 0 1 0 -3.6 0Z"/>
<text x="154" y="252.5" font-size="7.1" font-weight="bold" text-anchor="start" fill="#111" stroke="#111" stroke-width="0.25">HgTe (V<tspan font-size="5.6" dy="1.7">GS</tspan><tspan dy="-1.7">=5V)</tspan></text>
<text x="154" y="262.9" font-size="7.1" font-weight="bold" text-anchor="start" fill="#111" stroke="#111" stroke-width="0.25">CdS/HgTe (V<tspan font-size="5.6" dy="1.7">GS</tspan><tspan dy="-1.7">=5V)</tspan></text>
<text x="154" y="273" font-size="7.1" font-weight="bold" text-anchor="start" fill="#111" stroke="#111" stroke-width="0.25">CdS/HgTe (V<tspan font-size="5.6" dy="1.7">GS</tspan><tspan dy="-1.7">=-5V)</tspan></text>
<text x="95.3" y="444.6" font-size="10" font-weight="bold" text-anchor="middle" fill="#111"  stroke="#111" stroke-width="0.22">100</text>
<text x="173.7" y="444.6" font-size="10" font-weight="bold" text-anchor="middle" fill="#111"  stroke="#111" stroke-width="0.22">1000</text>
<text x="36.5" y="436.65" font-size="8.6" font-weight="bold" text-anchor="end" fill="#111" stroke="#111" stroke-width="0.22">10<tspan font-size="5.4" dy="-3.7">&#8722;11</tspan></text>
<text x="36.5" y="372.07" font-size="8.6" font-weight="bold" text-anchor="end" fill="#111" stroke="#111" stroke-width="0.22">10<tspan font-size="5.4" dy="-3.7">&#8722;10</tspan></text>
<text x="36.5" y="307.5" font-size="8.6" font-weight="bold" text-anchor="end" fill="#111" stroke="#111" stroke-width="0.22">10<tspan font-size="5.4" dy="-3.7">&#8722;9</tspan></text>
<text x="36.5" y="242.92" font-size="8.6" font-weight="bold" text-anchor="end" fill="#111" stroke="#111" stroke-width="0.22">10<tspan font-size="5.4" dy="-3.7">&#8722;8</tspan></text>
<text x="132.9" y="461" font-size="11.2" font-weight="bold" text-anchor="middle" fill="#111"  stroke="#111" stroke-width="0.22">Frequency (Hz)</text>
<text transform="translate(15.9,335.7) rotate(-90)" font-size="9.8" font-weight="bold" text-anchor="middle" fill="#111" stroke="#111" stroke-width="0.22">Current noise density (A/Hz<tspan font-size="6.5" dy="-3.5">&#8722;1/2</tspan><tspan dy="3.5">)</tspan></text>
<text x="0" y="243.7" font-size="17.5" font-weight="bold" text-anchor="start" fill="#111"  stroke="#111" stroke-width="0.22">(d)</text>
<path d="M291.46 433.2L291.46 431.7M314.49 433.2L314.49 430.6M337.52 433.2L337.52 431.7M360.55 433.2L360.55 430.6M383.58 433.2L383.58 431.7M406.61 433.2L406.61 430.6M429.64 433.2L429.64 431.7M268.43 418.88L269.93 418.88M268.43 407.19L269.93 407.19M268.43 398.89L269.93 398.89M268.43 392.46L269.93 392.46M268.43 387.2L269.93 387.2M268.43 382.76L269.93 382.76M268.43 378.9L269.93 378.9M268.43 375.51L269.93 375.51M268.43 372.47L271.03 372.47M268.43 352.48L269.93 352.48M268.43 340.79L269.93 340.79M268.43 332.49L269.93 332.49M268.43 326.06L269.93 326.06M268.43 320.8L269.93 320.8M268.43 316.36L269.93 316.36M268.43 312.5L269.93 312.5M268.43 309.11L269.93 309.11M268.43 306.07L271.03 306.07M268.43 286.08L269.93 286.08M268.43 274.39L269.93 274.39M268.43 266.09L269.93 266.09M268.43 259.66L269.93 259.66M268.43 254.4L269.93 254.4M268.43 249.96L269.93 249.96M268.43 246.1L269.93 246.1M268.43 242.71L269.93 242.71" stroke="#333" stroke-width="1.25" fill="none"/>
<clipPath id="ce"><rect x="268.43" y="239.67" width="184.24" height="193.53"/></clipPath>
<g clip-path="url(#ce)"><path d="M268.43 385.7L277.64 389.9L286.85 364.9L296.07 346.7L305.28 342L314.49 341.1L323.7 340.7L332.91 338.8L342.13 335.8L360.55 331L369.76 330.7L378.97 330.2L388.19 329.3L397.4 323.7L406.61 325.4L415.82 331.4L425.03 333.4L434.25 318.5L443.46 316.3L452.67 308.3" stroke="#a65d08" stroke-width="1.9" fill="none" stroke-linejoin="round"/>
<path fill="#a65d08" d="M266.13 383.4h4.6v4.6h-4.6ZM275.34 387.6h4.6v4.6h-4.6ZM284.55 362.6h4.6v4.6h-4.6ZM293.77 344.4h4.6v4.6h-4.6ZM302.98 339.7h4.6v4.6h-4.6ZM312.19 338.8h4.6v4.6h-4.6ZM321.4 338.4h4.6v4.6h-4.6ZM330.61 336.5h4.6v4.6h-4.6ZM339.83 333.5h4.6v4.6h-4.6ZM358.25 328.7h4.6v4.6h-4.6ZM367.46 328.4h4.6v4.6h-4.6ZM376.67 327.9h4.6v4.6h-4.6ZM385.89 327h4.6v4.6h-4.6ZM395.1 321.4h4.6v4.6h-4.6ZM404.31 323.1h4.6v4.6h-4.6ZM413.52 329.1h4.6v4.6h-4.6ZM422.73 331.1h4.6v4.6h-4.6ZM431.95 316.2h4.6v4.6h-4.6ZM441.16 314h4.6v4.6h-4.6ZM450.37 306h4.6v4.6h-4.6Z"/></g>
<rect x="268.43" y="239.67" width="184.24" height="193.53" fill="none" stroke="#333" stroke-width="1.5"/>
<path d="M377.7 251.3H399.6" stroke="#a65d08" stroke-width="1.9"/>
<path fill="#a65d08" d="M387.4 249.1h4.4v4.4h-4.4Z"/>
<text x="402.7" y="254.4" font-size="10" font-weight="bold" text-anchor="start" fill="#111"  stroke="#111" stroke-width="0.22">CdS/HgTe</text>
<text x="419.4" y="273.9" font-size="9" font-weight="normal" text-anchor="end" fill="#222"  stroke="#222" stroke-width="0.12">Instrument</text>
<text x="419.4" y="285" font-size="9" font-weight="normal" text-anchor="end" fill="#222"  stroke="#222" stroke-width="0.12">limits</text>
<path d="M430 286.1L444.42 292.77" stroke="#111" stroke-width="1.4"/>
<path d="M448.6 294.7L442.38 294.8L444.65 289.9Z" fill="#111"/>
<text x="268.43" y="444.6" font-size="10" font-weight="bold" text-anchor="middle" fill="#111"  stroke="#111" stroke-width="0.22">1500</text>
<text x="314.49" y="444.6" font-size="10" font-weight="bold" text-anchor="middle" fill="#111"  stroke="#111" stroke-width="0.22">1750</text>
<text x="360.55" y="444.6" font-size="10" font-weight="bold" text-anchor="middle" fill="#111"  stroke="#111" stroke-width="0.22">2000</text>
<text x="406.61" y="444.6" font-size="10" font-weight="bold" text-anchor="middle" fill="#111"  stroke="#111" stroke-width="0.22">2250</text>
<text x="452.67" y="444.6" font-size="10" font-weight="bold" text-anchor="middle" fill="#111"  stroke="#111" stroke-width="0.22">2500</text>
<text x="265.5" y="376.17" font-size="10.5" font-weight="bold" text-anchor="end" fill="#111" stroke="#111" stroke-width="0.22">10<tspan font-size="6.4" dy="-4.3">9</tspan></text>
<text x="265.5" y="309.77" font-size="10.5" font-weight="bold" text-anchor="end" fill="#111" stroke="#111" stroke-width="0.22">10<tspan font-size="6.4" dy="-4.3">10</tspan></text>
<text x="265.5" y="243.37" font-size="10.5" font-weight="bold" text-anchor="end" fill="#111" stroke="#111" stroke-width="0.22">10<tspan font-size="6.4" dy="-4.3">11</tspan></text>
<text x="360.5" y="461.4" font-size="11.2" font-weight="bold" text-anchor="middle" fill="#111"  stroke="#111" stroke-width="0.22">Wavelength (nm)</text>
<text transform="translate(245.2,336.9) rotate(-90)" font-size="11" font-weight="bold" text-anchor="middle" fill="#111" stroke="#111" stroke-width="0.22">D* (Jones)</text>
<text x="227.6" y="243.7" font-size="17.5" font-weight="bold" text-anchor="start" fill="#111"  stroke="#111" stroke-width="0.22">(e)</text>
<path d="M517.4 435.67L517.4 433.07M517.4 338.64L517.4 336.04M535.85 435.67L535.85 434.17M535.85 338.64L535.85 337.14M554.3 435.67L554.3 433.07M554.3 338.64L554.3 336.04M572.75 435.67L572.75 434.17M572.75 338.64L572.75 337.14M591.2 435.67L591.2 433.07M591.2 338.64L591.2 336.04M609.65 435.67L609.65 434.17M609.65 338.64L609.65 337.14M628.1 435.67L628.1 433.07M628.1 338.64L628.1 336.04M646.55 435.67L646.55 434.17M646.55 338.64L646.55 337.14M665 435.67L665 433.07M665 338.64L665 336.04M498.9 330.5L501.5 330.5M498.9 427.4L501.5 427.4M498.9 310.3L500.4 310.3M498.9 407.3L500.4 407.3M498.9 290.1L501.5 290.1M498.9 387.2L501.5 387.2M498.9 269.9L500.4 269.9M498.9 367.1L500.4 367.1M498.9 249.7L501.5 249.7M498.9 347L501.5 347" stroke="#333" stroke-width="1.25" fill="none"/>
<clipPath id="cf"><rect x="498.9" y="241.67" width="184.5" height="194.00000000000003"/></clipPath>
<path clip-path="url(#cf)" d="M498.95 249.7L517.4 249.7L517.82 251.52L518.23 253.29L518.65 255.03L519.06 256.72L519.48 258.38L519.9 260L520.31 261.59L520.73 263.14L521.15 264.65L521.56 266.13L521.98 267.58L522.39 269L522.81 270.38L523.23 271.73L523.64 273.05L524.06 274.34L524.47 275.6L524.89 276.84L525.31 278.05L525.72 279.22L526.14 280.38L526.56 281.5L526.97 282.61L527.39 283.68L527.8 284.74L528.22 285.76L528.64 286.77L529.05 287.75L529.47 288.71L529.88 289.65L530.3 290.57L530.72 291.47L531.13 292.35L531.55 293.2L531.97 294.04L532.38 294.86L532.8 295.66L533.21 296.45L533.63 297.21L534.05 297.96L534.46 298.69L534.88 299.41L535.3 300.11L535.71 300.79L536.13 301.46L536.54 302.11L536.96 302.75L537.38 303.37L537.79 303.98L538.21 304.58L538.62 305.16L539.04 305.73L539.46 306.29L539.87 306.83L540.29 307.36L540.71 307.88L541.12 308.39L541.54 308.89L541.95 309.38L542.37 309.85L542.79 310.31L543.2 310.77L543.62 311.21L544.03 311.65L544.45 312.07L544.87 312.48L545.28 312.89L545.7 313.29L546.12 313.67L546.53 314.05L546.95 314.42L547.36 314.78L547.78 315.14L548.2 315.48L548.61 315.82L549.03 316.15L549.44 316.47L549.86 316.79L550.28 317.09L550.69 317.4L551.11 317.69L551.53 317.98L551.94 318.26L552.36 318.54L552.77 318.8L553.19 319.07L553.61 319.32L554.02 319.58L554.44 319.82L554.85 320.06L555.27 320.3L555.69 320.53L556.1 320.75L556.52 320.97L556.94 321.18L557.35 321.39L557.77 321.6L558.18 321.8L558.6 321.99L559.02 322.18L559.43 322.37L559.85 322.55L560.27 322.73L560.68 322.91L561.1 323.08L561.51 323.24L561.93 323.41L562.35 323.57L562.76 323.72L563.18 323.88L563.59 324.02L564.01 324.17L564.43 324.31L564.84 324.45L565.26 324.59L565.68 324.72L566.09 324.85L566.51 324.98L566.92 325.1L567.34 325.22L567.76 325.34L568.17 325.46L568.59 325.57L569 325.68L569.42 325.79L569.84 325.9L570.25 326L570.67 326.1L571.09 326.2L571.5 326.3L571.92 326.39L572.33 326.48L572.75 326.57L573.17 326.66L573.58 326.75L574 326.83L574.41 326.91L574.83 327L575.25 327.07L575.66 327.15L576.08 327.23L576.5 327.3L576.91 327.37L577.33 327.44L577.74 327.51L578.16 327.58L578.58 327.64L578.99 327.71L579.41 327.77L579.82 327.83L580.24 327.89L580.66 327.95L581.07 328.01L581.49 328.06L581.91 328.12L582.32 328.17L582.74 328.22L583.15 328.28L583.57 328.33L583.99 328.37L584.4 328.42L584.82 328.47L585.23 328.51L585.65 328.56L586.07 328.6L586.48 328.65L586.9 328.69L587.32 328.73L587.73 328.77L588.15 328.81L588.56 328.85L588.98 328.88L589.4 328.92L589.81 328.95L590.23 328.99L590.65 329.02L591.06 329.06L591.48 329.09L591.89 329.12L592.31 329.15L592.73 329.18L593.14 329.21L593.56 329.24L593.97 329.27L594.39 329.3L594.81 329.32L595.22 329.35L595.64 329.38L596.06 329.4L596.47 329.43L596.89 329.45L597.3 329.47L597.72 329.5L598.14 329.52L598.55 329.54L598.97 329.56L599.38 329.58L599.8 329.6L600.22 329.62L600.63 329.64L601.05 329.66L601.47 329.68L601.88 329.7L602.3 329.72L602.71 329.74L603.13 329.75L603.55 329.77L603.96 329.79L604.38 329.8L604.79 329.82L605.21 329.83L605.63 329.85L606.04 329.86L606.46 329.88L606.88 329.89L607.29 329.91L607.71 329.92L608.12 329.93L608.54 329.94L608.96 329.96L609.37 329.97L609.79 329.98L610.2 329.99L610.62 330L611.04 330.02L611.45 330.03L611.87 330.04L612.29 330.05L612.7 330.06L613.12 330.07L613.53 330.08L613.95 330.09L614.37 330.1L614.78 330.1L615.2 330.11L615.62 330.12L616.03 330.13L616.45 330.14L616.86 330.15L617.28 330.16L617.7 330.16L618.11 330.17L618.53 330.18L618.94 330.19L619.36 330.19L619.78 330.2L620.19 330.21L620.61 330.21L621.03 330.22L621.44 330.23L621.86 330.23L622.27 330.24L622.69 330.24L623.11 330.25L623.52 330.25L623.94 330.26L624.35 330.27L624.77 330.27L625.19 330.28L625.6 330.28L626.02 330.29L626.44 330.29L626.85 330.3L627.27 330.3L627.68 330.3L628.1 330.31L628.52 330.31L628.93 330.32L629.35 330.32L629.76 330.33L630.18 330.33L630.6 330.33L631.01 330.34L631.43 330.34L631.85 330.34L632.26 330.35L632.68 330.35L633.09 330.35L633.51 330.36L633.93 330.36L634.34 330.36L634.76 330.37L635.17 330.37L635.59 330.37L636.01 330.38L636.42 330.38L636.84 330.38L637.26 330.38L637.67 330.39L638.09 330.39L638.5 330.39L638.92 330.39L639.34 330.4L639.75 330.4L640.17 330.4L640.58 330.4L641 330.41L641.42 330.41L641.83 330.41L642.25 330.41L642.67 330.41L643.08 330.42L643.5 330.42L643.91 330.42L644.33 330.42L644.75 330.42L645.16 330.42L645.58 330.43L646 330.43L646.41 330.43L646.83 330.43L647.24 330.43L647.66 330.43L648.08 330.44L648.49 330.44L648.91 330.44L649.32 330.44L649.74 330.44L650.16 330.44L650.57 330.44L650.99 330.45L651.41 330.45L651.82 330.45L652.24 330.45L652.65 330.45L653.07 330.45L653.49 330.45L653.9 330.45L654.32 330.45L654.73 330.46L655.15 330.46L655.57 330.46L655.98 330.46L656.4 330.46L656.82 330.46L657.23 330.46L657.65 330.46L658.06 330.46L658.48 330.46L658.9 330.46L659.31 330.47L659.73 330.47L660.14 330.47L660.56 330.47L660.98 330.47L661.39 330.47L661.81 330.47L662.23 330.47L662.64 330.47L663.06 330.47L663.47 330.47L663.89 330.47L664.31 330.47L664.72 330.47L665.14 330.47L665.55 330.48L665.97 330.48L666.39 330.48L666.8 330.48L667.22 330.48L667.64 330.48L668.05 330.48L668.47 330.48L668.88 330.48L669.3 330.48L669.72 330.48L670.13 330.48L670.55 330.48L670.97 330.48L671.38 330.48L671.8 330.48L672.21 330.48L672.63 330.48L673.05 330.48L673.46 330.48L673.88 330.48L674.29 330.48L674.71 330.49L675.13 330.49L675.54 330.49L675.96 330.49L676.38 330.49L676.79 330.49L677.21 330.49L677.62 330.49L678.04 330.49L678.46 330.49L678.87 330.49L679.29 330.49L679.7 330.49L680.12 330.49L680.54 330.49L680.95 330.49L681.37 330.49L681.79 330.49L682.2 330.49L682.62 330.49L683.03 330.49L683.45 330.49" stroke="#3366b5" stroke-width="1.6" fill="none" stroke-linejoin="round"/>
<path clip-path="url(#cf)" d="M498.95 347L517.4 347L517.82 350.14L518.23 353.1L518.65 355.89L519.06 358.54L519.48 361.03L519.9 363.39L520.31 365.62L520.73 367.73L521.15 369.72L521.56 371.61L521.98 373.4L522.39 375.09L522.81 376.7L523.23 378.22L523.64 379.67L524.06 381.04L524.47 382.35L524.89 383.58L525.31 384.76L525.72 385.88L526.14 386.95L526.56 387.97L526.97 388.93L527.39 389.86L527.8 390.74L528.22 391.58L528.64 392.38L529.05 393.15L529.47 393.89L529.88 394.59L530.3 395.27L530.72 395.91L531.13 396.54L531.55 397.13L531.97 397.7L532.38 398.26L532.8 398.79L533.21 399.3L533.63 399.79L534.05 400.26L534.46 400.72L534.88 401.16L535.3 401.59L535.71 402L536.13 402.4L536.54 402.79L536.96 403.16L537.38 403.53L537.79 403.88L538.21 404.23L538.62 404.56L539.04 404.88L539.46 405.2L539.87 405.51L540.29 405.81L540.71 406.1L541.12 406.38L541.54 406.66L541.95 406.93L542.37 407.2L542.79 407.45L543.2 407.71L543.62 407.96L544.03 408.2L544.45 408.44L544.87 408.67L545.28 408.9L545.7 409.12L546.12 409.34L546.53 409.56L546.95 409.77L547.36 409.97L547.78 410.18L548.2 410.38L548.61 410.58L549.03 410.77L549.44 410.96L549.86 411.15L550.28 411.33L550.69 411.51L551.11 411.69L551.53 411.87L551.94 412.04L552.36 412.22L552.77 412.38L553.19 412.55L553.61 412.71L554.02 412.88L554.44 413.04L554.85 413.19L555.27 413.35L555.69 413.5L556.1 413.65L556.52 413.8L556.94 413.95L557.35 414.09L557.77 414.24L558.18 414.38L558.6 414.52L559.02 414.66L559.43 414.79L559.85 414.93L560.27 415.06L560.68 415.19L561.1 415.32L561.51 415.45L561.93 415.58L562.35 415.71L562.76 415.83L563.18 415.95L563.59 416.07L564.01 416.19L564.43 416.31L564.84 416.43L565.26 416.55L565.68 416.66L566.09 416.77L566.51 416.89L566.92 417L567.34 417.11L567.76 417.22L568.17 417.32L568.59 417.43L569 417.53L569.42 417.64L569.84 417.74L570.25 417.84L570.67 417.94L571.09 418.04L571.5 418.14L571.92 418.24L572.33 418.33L572.75 418.43L573.17 418.52L573.58 418.62L574 418.71L574.41 418.8L574.83 418.89L575.25 418.98L575.66 419.07L576.08 419.15L576.5 419.24L576.91 419.32L577.33 419.41L577.74 419.49L578.16 419.58L578.58 419.66L578.99 419.74L579.41 419.82L579.82 419.9L580.24 419.98L580.66 420.05L581.07 420.13L581.49 420.21L581.91 420.28L582.32 420.36L582.74 420.43L583.15 420.5L583.57 420.57L583.99 420.65L584.4 420.72L584.82 420.79L585.23 420.86L585.65 420.92L586.07 420.99L586.48 421.06L586.9 421.12L587.32 421.19L587.73 421.26L588.15 421.32L588.56 421.38L588.98 421.45L589.4 421.51L589.81 421.57L590.23 421.63L590.65 421.69L591.06 421.75L591.48 421.81L591.89 421.87L592.31 421.93L592.73 421.98L593.14 422.04L593.56 422.09L593.97 422.15L594.39 422.21L594.81 422.26L595.22 422.31L595.64 422.37L596.06 422.42L596.47 422.47L596.89 422.52L597.3 422.57L597.72 422.62L598.14 422.67L598.55 422.72L598.97 422.77L599.38 422.82L599.8 422.87L600.22 422.91L600.63 422.96L601.05 423.01L601.47 423.05L601.88 423.1L602.3 423.14L602.71 423.19L603.13 423.23L603.55 423.28L603.96 423.32L604.38 423.36L604.79 423.4L605.21 423.45L605.63 423.49L606.04 423.53L606.46 423.57L606.88 423.61L607.29 423.65L607.71 423.69L608.12 423.73L608.54 423.76L608.96 423.8L609.37 423.84L609.79 423.88L610.2 423.91L610.62 423.95L611.04 423.99L611.45 424.02L611.87 424.06L612.29 424.09L612.7 424.13L613.12 424.16L613.53 424.19L613.95 424.23L614.37 424.26L614.78 424.29L615.2 424.33L615.62 424.36L616.03 424.39L616.45 424.42L616.86 424.45L617.28 424.48L617.7 424.51L618.11 424.54L618.53 424.57L618.94 424.6L619.36 424.63L619.78 424.66L620.19 424.69L620.61 424.72L621.03 424.75L621.44 424.77L621.86 424.8L622.27 424.83L622.69 424.85L623.11 424.88L623.52 424.91L623.94 424.93L624.35 424.96L624.77 424.98L625.19 425.01L625.6 425.04L626.02 425.06L626.44 425.08L626.85 425.11L627.27 425.13L627.68 425.16L628.1 425.18L628.52 425.2L628.93 425.23L629.35 425.25L629.76 425.27L630.18 425.29L630.6 425.31L631.01 425.34L631.43 425.36L631.85 425.38L632.26 425.4L632.68 425.42L633.09 425.44L633.51 425.46L633.93 425.48L634.34 425.5L634.76 425.52L635.17 425.54L635.59 425.56L636.01 425.58L636.42 425.6L636.84 425.62L637.26 425.64L637.67 425.66L638.09 425.67L638.5 425.69L638.92 425.71L639.34 425.73L639.75 425.74L640.17 425.76L640.58 425.78L641 425.8L641.42 425.81L641.83 425.83L642.25 425.85L642.67 425.86L643.08 425.88L643.5 425.89L643.91 425.91L644.33 425.93L644.75 425.94L645.16 425.96L645.58 425.97L646 425.99L646.41 426L646.83 426.02L647.24 426.03L647.66 426.04L648.08 426.06L648.49 426.07L648.91 426.09L649.32 426.1L649.74 426.11L650.16 426.13L650.57 426.14L650.99 426.15L651.41 426.17L651.82 426.18L652.24 426.19L652.65 426.2L653.07 426.22L653.49 426.23L653.9 426.24L654.32 426.25L654.73 426.27L655.15 426.28L655.57 426.29L655.98 426.3L656.4 426.31L656.82 426.32L657.23 426.33L657.65 426.35L658.06 426.36L658.48 426.37L658.9 426.38L659.31 426.39L659.73 426.4L660.14 426.41L660.56 426.42L660.98 426.43L661.39 426.44L661.81 426.45L662.23 426.46L662.64 426.47L663.06 426.48L663.47 426.49L663.89 426.5L664.31 426.51L664.72 426.52L665.14 426.53L665.55 426.54L665.97 426.55L666.39 426.55L666.8 426.56L667.22 426.57L667.64 426.58L668.05 426.59L668.47 426.6L668.88 426.61L669.3 426.61L669.72 426.62L670.13 426.63L670.55 426.64L670.97 426.65L671.38 426.65L671.8 426.66L672.21 426.67L672.63 426.68L673.05 426.68L673.46 426.69L673.88 426.7L674.29 426.71L674.71 426.71L675.13 426.72L675.54 426.73L675.96 426.74L676.38 426.74L676.79 426.75L677.21 426.76L677.62 426.76L678.04 426.77L678.46 426.78L678.87 426.78L679.29 426.79L679.7 426.8L680.12 426.8L680.54 426.81L680.95 426.81L681.37 426.82L681.79 426.83L682.2 426.83L682.62 426.84L683.03 426.84L683.45 426.85" stroke="#a65d08" stroke-width="1.6" fill="none" stroke-linejoin="round"/>
<rect x="498.9" y="241.67" width="184.5" height="194" fill="none" stroke="#333" stroke-width="1.5"/>
<path d="M498.9 338.64H683.4" stroke="#333" stroke-width="1.3"/>
<path d="M635.9 249.3H655.6" stroke="#3366b5" stroke-width="1.6"/>
<text x="657.7" y="252.4" font-size="8.6" font-weight="bold" text-anchor="start" fill="#111"  stroke="#111" stroke-width="0.22">HgTe</text>
<path d="M618.3 346.7H637.7" stroke="#a65d08" stroke-width="1.6"/>
<text x="639.9" y="349.4" font-size="8.6" font-weight="bold" text-anchor="start" fill="#111"  stroke="#111" stroke-width="0.22">CdS/HgTe</text>
<text x="495.6" y="253" font-size="10" font-weight="bold" text-anchor="end" fill="#111"  stroke="#111" stroke-width="0.22">1.0</text>
<text x="495.6" y="350.3" font-size="10" font-weight="bold" text-anchor="end" fill="#111"  stroke="#111" stroke-width="0.22">1.0</text>
<text x="495.6" y="293.4" font-size="10" font-weight="bold" text-anchor="end" fill="#111"  stroke="#111" stroke-width="0.22">0.5</text>
<text x="495.6" y="390.5" font-size="10" font-weight="bold" text-anchor="end" fill="#111"  stroke="#111" stroke-width="0.22">0.5</text>
<text x="495.6" y="333.8" font-size="10" font-weight="bold" text-anchor="end" fill="#111"  stroke="#111" stroke-width="0.22">0.0</text>
<text x="495.6" y="430.7" font-size="10" font-weight="bold" text-anchor="end" fill="#111"  stroke="#111" stroke-width="0.22">0.0</text>
<text x="517.4" y="447.3" font-size="10" font-weight="bold" text-anchor="middle" fill="#111"  stroke="#111" stroke-width="0.22">0</text>
<text x="554.3" y="447.3" font-size="10" font-weight="bold" text-anchor="middle" fill="#111"  stroke="#111" stroke-width="0.22">200</text>
<text x="591.2" y="447.3" font-size="10" font-weight="bold" text-anchor="middle" fill="#111"  stroke="#111" stroke-width="0.22">400</text>
<text x="628.1" y="447.3" font-size="10" font-weight="bold" text-anchor="middle" fill="#111"  stroke="#111" stroke-width="0.22">600</text>
<text x="665" y="447.3" font-size="10" font-weight="bold" text-anchor="middle" fill="#111"  stroke="#111" stroke-width="0.22">800</text>
<text x="591" y="463.5" font-size="11.2" font-weight="bold" text-anchor="middle" fill="#111"  stroke="#111" stroke-width="0.22">Time (us)</text>
<text transform="translate(477.3,327.4) rotate(-90)" font-size="11.2" font-weight="bold" text-anchor="middle" fill="#111" stroke="#111" stroke-width="0.22">Normalized photocurrent (a.u.)</text>
<text x="455.8" y="243.8" font-size="17.5" font-weight="bold" text-anchor="start" fill="#111"  stroke="#111" stroke-width="0.22">(f)</text>
<text x="562.4" y="285.4" font-size="9.1" font-weight="normal" text-anchor="start" fill="#222"  stroke="#222" stroke-width="0.12">Bulk recombination</text>
<text x="573.6" y="297.9" font-size="9.4" fill="#222" stroke="#222" stroke-width="0.12">&#964;<tspan font-size="6.6" dy="2.2" font-style="italic">eff</tspan><tspan dy="-2.2">~ 99.2 &#956;s</tspan></text>
<path d="M558.8 286.6L543.85 294.08" stroke="#3366b5" stroke-width="1.4"/>
<path d="M540 296L543.58 291.3L545.9 295.96Z" fill="#3366b5"/>
<text x="547.9" y="374.6" font-size="9.1" font-weight="normal" text-anchor="start" fill="#222"  stroke="#222" stroke-width="0.12">Fast component</text>
<text x="552.3" y="384.0" font-size="9.4" fill="#222" stroke="#222" stroke-width="0.12">&#964;<tspan font-size="6.6" dy="2.2" font-style="italic">eff1</tspan><tspan dy="-2.2"> ~ 28.5 &#956;s</tspan></text>
<path d="M545.1 372.3L531.3 372.3" stroke="#a65d08" stroke-width="1.5"/>
<path d="M527 372.3L532.3 369.7L532.3 374.9Z" fill="#a65d08"/>
<text x="614" y="398.8" font-size="9.1" font-weight="normal" text-anchor="start" fill="#222"  stroke="#222" stroke-width="0.12">Slow component</text>
<text x="620.5" y="408.4" font-size="9.4" fill="#222" stroke="#222" stroke-width="0.12">&#964;<tspan font-size="6.6" dy="2.2" font-style="italic">eff2</tspan><tspan dy="-2.2"> ~ 195 &#956;s</tspan></text>
<path d="M615.7 403L605.82 415.29" stroke="#a65d08" stroke-width="1.5"/>
<path d="M603 418.8L604.34 412.82L608.55 416.2Z" fill="#a65d08"/>
</svg>
</body></html>
